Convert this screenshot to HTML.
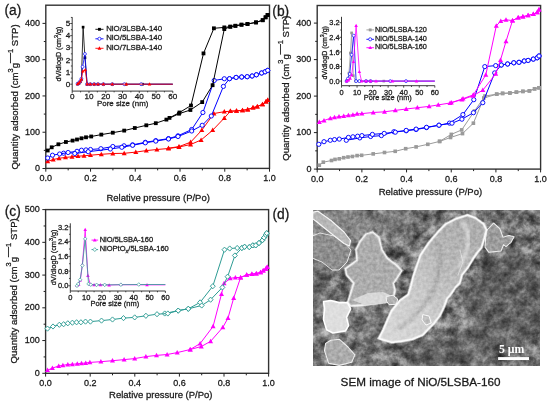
<!DOCTYPE html><html><head><meta charset="utf-8"><style>html,body{margin:0;padding:0;background:#fff}svg{display:block;will-change:transform} text.t{stroke:#1a1a1a;stroke-width:0.28px}</style></head><body>
<svg width="550" height="403" viewBox="0 0 550 403" font-family='"Liberation Sans", sans-serif'>
<rect width="550" height="403" fill="#fff"/>
<rect x="45.8" y="5.2" width="223.7" height="163.2" fill="none" stroke="#333" stroke-width="1.4"/>
<line x1="45.8" y1="168.4" x2="45.8" y2="171.7" stroke="#222" stroke-width="1.0"/>
<text class="t" x="45.8" y="181.2" font-size="9" text-anchor="middle" fill="#1a1a1a" >0.0</text>
<line x1="68.17" y1="168.4" x2="68.17" y2="170.4" stroke="#222" stroke-width="1.0"/>
<line x1="90.54" y1="168.4" x2="90.54" y2="171.7" stroke="#222" stroke-width="1.0"/>
<text class="t" x="90.54" y="181.2" font-size="9" text-anchor="middle" fill="#1a1a1a" >0.2</text>
<line x1="112.91" y1="168.4" x2="112.91" y2="170.4" stroke="#222" stroke-width="1.0"/>
<line x1="135.28" y1="168.4" x2="135.28" y2="171.7" stroke="#222" stroke-width="1.0"/>
<text class="t" x="135.28" y="181.2" font-size="9" text-anchor="middle" fill="#1a1a1a" >0.4</text>
<line x1="157.65" y1="168.4" x2="157.65" y2="170.4" stroke="#222" stroke-width="1.0"/>
<line x1="180.02" y1="168.4" x2="180.02" y2="171.7" stroke="#222" stroke-width="1.0"/>
<text class="t" x="180.02" y="181.2" font-size="9" text-anchor="middle" fill="#1a1a1a" >0.6</text>
<line x1="202.39" y1="168.4" x2="202.39" y2="170.4" stroke="#222" stroke-width="1.0"/>
<line x1="224.76" y1="168.4" x2="224.76" y2="171.7" stroke="#222" stroke-width="1.0"/>
<text class="t" x="224.76" y="181.2" font-size="9" text-anchor="middle" fill="#1a1a1a" >0.8</text>
<line x1="247.13" y1="168.4" x2="247.13" y2="170.4" stroke="#222" stroke-width="1.0"/>
<line x1="269.5" y1="168.4" x2="269.5" y2="171.7" stroke="#222" stroke-width="1.0"/>
<text class="t" x="269.5" y="181.2" font-size="9" text-anchor="middle" fill="#1a1a1a" >1.0</text>
<line x1="42.5" y1="168.5" x2="45.8" y2="168.5" stroke="#222" stroke-width="1.0"/>
<text class="t" x="40" y="171.1" font-size="9" text-anchor="end" fill="#1a1a1a" >0</text>
<line x1="42.5" y1="132.22" x2="45.8" y2="132.22" stroke="#222" stroke-width="1.0"/>
<text class="t" x="40" y="134.82" font-size="9" text-anchor="end" fill="#1a1a1a" >100</text>
<line x1="42.5" y1="95.94" x2="45.8" y2="95.94" stroke="#222" stroke-width="1.0"/>
<text class="t" x="40" y="98.54" font-size="9" text-anchor="end" fill="#1a1a1a" >200</text>
<line x1="42.5" y1="59.66" x2="45.8" y2="59.66" stroke="#222" stroke-width="1.0"/>
<text class="t" x="40" y="62.26" font-size="9" text-anchor="end" fill="#1a1a1a" >300</text>
<line x1="42.5" y1="23.38" x2="45.8" y2="23.38" stroke="#222" stroke-width="1.0"/>
<text class="t" x="40" y="25.98" font-size="9" text-anchor="end" fill="#1a1a1a" >400</text>
<line x1="43.8" y1="150.36" x2="45.8" y2="150.36" stroke="#222" stroke-width="1.0"/>
<line x1="43.8" y1="114.08" x2="45.8" y2="114.08" stroke="#222" stroke-width="1.0"/>
<line x1="43.8" y1="77.8" x2="45.8" y2="77.8" stroke="#222" stroke-width="1.0"/>
<line x1="43.8" y1="41.52" x2="45.8" y2="41.52" stroke="#222" stroke-width="1.0"/>
<text class="t" x="158.15" y="201.2" font-size="9.5" text-anchor="middle" fill="#1a1a1a" >Relative pressure (P/Po)</text>
<text transform="translate(18.4,169.6) rotate(-90)" class="t" font-size="9.6" fill="#1a1a1a">Quantity adsorbed (cm<tspan font-size="7.5" dy="-5.6">3</tspan><tspan dy="5.6">g</tspan><tspan font-size="10" dy="-5.6">—</tspan><tspan font-size="7.5">1</tspan><tspan dy="5.6"> STP)</tspan></text>
<text class="t" x="4.5" y="15.4" font-size="13.8" text-anchor="start" fill="#1a1a1a" >(a)</text>
<polyline points="267.7,100 266,101.7 262.5,104.3 257.3,106.5 253,107.7 247.7,109.5 242.5,110.3 236.5,110.9 230.4,111.2 224.3,111.7 213.9,113.5 201.8,130.2 190.6,142.2 179,146.6 168.5,148.2" fill="none" stroke="#ff0000" stroke-width="1.0" stroke-linejoin="round"/>
<path d="M267.7,97.38 L270.2,101.88 L265.2,101.88 Z" fill="#ff0000"/>
<path d="M266,99.08 L268.5,103.58 L263.5,103.58 Z" fill="#ff0000"/>
<path d="M262.5,101.67 L265,106.17 L260,106.17 Z" fill="#ff0000"/>
<path d="M257.3,103.88 L259.8,108.38 L254.8,108.38 Z" fill="#ff0000"/>
<path d="M253,105.08 L255.5,109.58 L250.5,109.58 Z" fill="#ff0000"/>
<path d="M247.7,106.88 L250.2,111.38 L245.2,111.38 Z" fill="#ff0000"/>
<path d="M242.5,107.67 L245,112.17 L240,112.17 Z" fill="#ff0000"/>
<path d="M236.5,108.28 L239,112.78 L234,112.78 Z" fill="#ff0000"/>
<path d="M230.4,108.58 L232.9,113.08 L227.9,113.08 Z" fill="#ff0000"/>
<path d="M224.3,109.08 L226.8,113.58 L221.8,113.58 Z" fill="#ff0000"/>
<path d="M213.9,110.88 L216.4,115.38 L211.4,115.38 Z" fill="#ff0000"/>
<path d="M201.8,127.57 L204.3,132.07 L199.3,132.07 Z" fill="#ff0000"/>
<path d="M190.6,139.57 L193.1,144.07 L188.1,144.07 Z" fill="#ff0000"/>
<path d="M179,143.97 L181.5,148.47 L176.5,148.47 Z" fill="#ff0000"/>
<path d="M168.5,145.57 L171,150.07 L166,150.07 Z" fill="#ff0000"/>
<polyline points="47.7,161.4 53.2,159.5 59,158.3 65.5,157.4 72,156.8 78,156.2 84,155.8 90.5,155.2 101.3,154.3 112.8,153.5 124.2,153.3 135.8,152.1 146.3,150.6 156.9,149.5 168.5,148.5 179,147 190.6,144.5 201.1,140 212.7,130.2 224.3,118 230.4,111.2 236.5,110.9 242.5,110.3 247.7,109.5 253,107.7 257.3,106.5 262.5,104.3 266,101.7 267.7,100" fill="none" stroke="#ff0000" stroke-width="1.0" stroke-linejoin="round"/>
<path d="M47.7,158.78 L50.2,163.28 L45.2,163.28 Z" fill="#ff0000"/>
<path d="M53.2,156.88 L55.7,161.38 L50.7,161.38 Z" fill="#ff0000"/>
<path d="M59,155.68 L61.5,160.18 L56.5,160.18 Z" fill="#ff0000"/>
<path d="M65.5,154.78 L68,159.28 L63,159.28 Z" fill="#ff0000"/>
<path d="M72,154.18 L74.5,158.68 L69.5,158.68 Z" fill="#ff0000"/>
<path d="M78,153.57 L80.5,158.07 L75.5,158.07 Z" fill="#ff0000"/>
<path d="M84,153.18 L86.5,157.68 L81.5,157.68 Z" fill="#ff0000"/>
<path d="M90.5,152.57 L93,157.07 L88,157.07 Z" fill="#ff0000"/>
<path d="M101.3,151.68 L103.8,156.18 L98.8,156.18 Z" fill="#ff0000"/>
<path d="M112.8,150.88 L115.3,155.38 L110.3,155.38 Z" fill="#ff0000"/>
<path d="M124.2,150.68 L126.7,155.18 L121.7,155.18 Z" fill="#ff0000"/>
<path d="M135.8,149.47 L138.3,153.97 L133.3,153.97 Z" fill="#ff0000"/>
<path d="M146.3,147.97 L148.8,152.47 L143.8,152.47 Z" fill="#ff0000"/>
<path d="M156.9,146.88 L159.4,151.38 L154.4,151.38 Z" fill="#ff0000"/>
<path d="M168.5,145.88 L171,150.38 L166,150.38 Z" fill="#ff0000"/>
<path d="M179,144.38 L181.5,148.88 L176.5,148.88 Z" fill="#ff0000"/>
<path d="M190.6,141.88 L193.1,146.38 L188.1,146.38 Z" fill="#ff0000"/>
<path d="M201.1,137.38 L203.6,141.88 L198.6,141.88 Z" fill="#ff0000"/>
<path d="M212.7,127.57 L215.2,132.07 L210.2,132.07 Z" fill="#ff0000"/>
<path d="M224.3,115.38 L226.8,119.88 L221.8,119.88 Z" fill="#ff0000"/>
<path d="M230.4,108.58 L232.9,113.08 L227.9,113.08 Z" fill="#ff0000"/>
<path d="M236.5,108.28 L239,112.78 L234,112.78 Z" fill="#ff0000"/>
<path d="M242.5,107.67 L245,112.17 L240,112.17 Z" fill="#ff0000"/>
<path d="M247.7,106.88 L250.2,111.38 L245.2,111.38 Z" fill="#ff0000"/>
<path d="M253,105.08 L255.5,109.58 L250.5,109.58 Z" fill="#ff0000"/>
<path d="M257.3,103.88 L259.8,108.38 L254.8,108.38 Z" fill="#ff0000"/>
<path d="M262.5,101.67 L265,106.17 L260,106.17 Z" fill="#ff0000"/>
<path d="M266,99.08 L268.5,103.58 L263.5,103.58 Z" fill="#ff0000"/>
<path d="M267.7,97.38 L270.2,101.88 L265.2,101.88 Z" fill="#ff0000"/>
<polyline points="267.7,70.4 265.1,71.8 261.6,73 256.4,74.8 252.1,76 247.2,76.7 241.7,77 236.1,77.4 229.5,78.7 224.3,78.75 214.2,80.5 202.9,112.5 191.7,129.5 178,135.8 168.5,138.6 155.8,140.6 145.3,142.3 132.6,144.8 124,145.8 112.8,146.5 100.9,148.7 90.5,149.5 86,149.9 81.5,150.2 77,151.3 63.6,153.2" fill="none" stroke="#0000ff" stroke-width="1.0" stroke-linejoin="round"/>
<circle cx="267.7" cy="70.4" r="2.1" fill="#fff" stroke="#0000ff" stroke-width="0.95"/>
<circle cx="265.1" cy="71.8" r="2.1" fill="#fff" stroke="#0000ff" stroke-width="0.95"/>
<circle cx="261.6" cy="73" r="2.1" fill="#fff" stroke="#0000ff" stroke-width="0.95"/>
<circle cx="256.4" cy="74.8" r="2.1" fill="#fff" stroke="#0000ff" stroke-width="0.95"/>
<circle cx="252.1" cy="76" r="2.1" fill="#fff" stroke="#0000ff" stroke-width="0.95"/>
<circle cx="247.2" cy="76.7" r="2.1" fill="#fff" stroke="#0000ff" stroke-width="0.95"/>
<circle cx="241.7" cy="77" r="2.1" fill="#fff" stroke="#0000ff" stroke-width="0.95"/>
<circle cx="236.1" cy="77.4" r="2.1" fill="#fff" stroke="#0000ff" stroke-width="0.95"/>
<circle cx="229.5" cy="78.7" r="2.1" fill="#fff" stroke="#0000ff" stroke-width="0.95"/>
<circle cx="224.3" cy="78.75" r="2.1" fill="#fff" stroke="#0000ff" stroke-width="0.95"/>
<circle cx="214.2" cy="80.5" r="2.1" fill="#fff" stroke="#0000ff" stroke-width="0.95"/>
<circle cx="202.9" cy="112.5" r="2.1" fill="#fff" stroke="#0000ff" stroke-width="0.95"/>
<circle cx="191.7" cy="129.5" r="2.1" fill="#fff" stroke="#0000ff" stroke-width="0.95"/>
<circle cx="178" cy="135.8" r="2.1" fill="#fff" stroke="#0000ff" stroke-width="0.95"/>
<circle cx="168.5" cy="138.6" r="2.1" fill="#fff" stroke="#0000ff" stroke-width="0.95"/>
<circle cx="155.8" cy="140.6" r="2.1" fill="#fff" stroke="#0000ff" stroke-width="0.95"/>
<circle cx="145.3" cy="142.3" r="2.1" fill="#fff" stroke="#0000ff" stroke-width="0.95"/>
<circle cx="132.6" cy="144.8" r="2.1" fill="#fff" stroke="#0000ff" stroke-width="0.95"/>
<circle cx="124" cy="145.8" r="2.1" fill="#fff" stroke="#0000ff" stroke-width="0.95"/>
<circle cx="112.8" cy="146.5" r="2.1" fill="#fff" stroke="#0000ff" stroke-width="0.95"/>
<circle cx="100.9" cy="148.7" r="2.1" fill="#fff" stroke="#0000ff" stroke-width="0.95"/>
<circle cx="90.5" cy="149.5" r="2.1" fill="#fff" stroke="#0000ff" stroke-width="0.95"/>
<circle cx="86" cy="149.9" r="2.1" fill="#fff" stroke="#0000ff" stroke-width="0.95"/>
<circle cx="81.5" cy="150.2" r="2.1" fill="#fff" stroke="#0000ff" stroke-width="0.95"/>
<circle cx="77" cy="151.3" r="2.1" fill="#fff" stroke="#0000ff" stroke-width="0.95"/>
<circle cx="63.6" cy="153.2" r="2.1" fill="#fff" stroke="#0000ff" stroke-width="0.95"/>
<polyline points="47.7,158 52.5,155.2 59.6,154 68.1,152.5 74.8,153.5 88.2,151.7 110.3,149 121.8,147.3 132.6,145.3 145.3,142.8 155.8,141.1 168.5,139 178,136.5 191.7,131 202.2,125.3 211.3,116 223.4,86.4 229.5,78.7 236.1,77.4 241.7,77 247.2,76.7 252.1,76 256.4,74.8 261.6,73 265.1,71.8 267.7,70.4" fill="none" stroke="#0000ff" stroke-width="1.0" stroke-linejoin="round"/>
<circle cx="47.7" cy="158" r="2.1" fill="#fff" stroke="#0000ff" stroke-width="0.95"/>
<circle cx="52.5" cy="155.2" r="2.1" fill="#fff" stroke="#0000ff" stroke-width="0.95"/>
<circle cx="59.6" cy="154" r="2.1" fill="#fff" stroke="#0000ff" stroke-width="0.95"/>
<circle cx="68.1" cy="152.5" r="2.1" fill="#fff" stroke="#0000ff" stroke-width="0.95"/>
<circle cx="74.8" cy="153.5" r="2.1" fill="#fff" stroke="#0000ff" stroke-width="0.95"/>
<circle cx="88.2" cy="151.7" r="2.1" fill="#fff" stroke="#0000ff" stroke-width="0.95"/>
<circle cx="110.3" cy="149" r="2.1" fill="#fff" stroke="#0000ff" stroke-width="0.95"/>
<circle cx="121.8" cy="147.3" r="2.1" fill="#fff" stroke="#0000ff" stroke-width="0.95"/>
<circle cx="132.6" cy="145.3" r="2.1" fill="#fff" stroke="#0000ff" stroke-width="0.95"/>
<circle cx="145.3" cy="142.8" r="2.1" fill="#fff" stroke="#0000ff" stroke-width="0.95"/>
<circle cx="155.8" cy="141.1" r="2.1" fill="#fff" stroke="#0000ff" stroke-width="0.95"/>
<circle cx="168.5" cy="139" r="2.1" fill="#fff" stroke="#0000ff" stroke-width="0.95"/>
<circle cx="178" cy="136.5" r="2.1" fill="#fff" stroke="#0000ff" stroke-width="0.95"/>
<circle cx="191.7" cy="131" r="2.1" fill="#fff" stroke="#0000ff" stroke-width="0.95"/>
<circle cx="202.2" cy="125.3" r="2.1" fill="#fff" stroke="#0000ff" stroke-width="0.95"/>
<circle cx="211.3" cy="116" r="2.1" fill="#fff" stroke="#0000ff" stroke-width="0.95"/>
<circle cx="223.4" cy="86.4" r="2.1" fill="#fff" stroke="#0000ff" stroke-width="0.95"/>
<circle cx="229.5" cy="78.7" r="2.1" fill="#fff" stroke="#0000ff" stroke-width="0.95"/>
<circle cx="236.1" cy="77.4" r="2.1" fill="#fff" stroke="#0000ff" stroke-width="0.95"/>
<circle cx="241.7" cy="77" r="2.1" fill="#fff" stroke="#0000ff" stroke-width="0.95"/>
<circle cx="247.2" cy="76.7" r="2.1" fill="#fff" stroke="#0000ff" stroke-width="0.95"/>
<circle cx="252.1" cy="76" r="2.1" fill="#fff" stroke="#0000ff" stroke-width="0.95"/>
<circle cx="256.4" cy="74.8" r="2.1" fill="#fff" stroke="#0000ff" stroke-width="0.95"/>
<circle cx="261.6" cy="73" r="2.1" fill="#fff" stroke="#0000ff" stroke-width="0.95"/>
<circle cx="265.1" cy="71.8" r="2.1" fill="#fff" stroke="#0000ff" stroke-width="0.95"/>
<circle cx="267.7" cy="70.4" r="2.1" fill="#fff" stroke="#0000ff" stroke-width="0.95"/>
<polyline points="267.6,15 265.6,17.3 262.7,20.2 256,22.4 247.5,24 241.5,24.7 235.4,25.8 230.3,26.7 224.3,27.4 213.9,28.3 203.5,53.4 191,105.5 179.5,112.5 169.5,117.9" fill="none" stroke="#000000" stroke-width="1.0" stroke-linejoin="round"/>
<rect x="265.7" y="13.1" width="3.8" height="3.8" fill="#000000"/>
<rect x="263.7" y="15.4" width="3.8" height="3.8" fill="#000000"/>
<rect x="260.8" y="18.3" width="3.8" height="3.8" fill="#000000"/>
<rect x="254.1" y="20.5" width="3.8" height="3.8" fill="#000000"/>
<rect x="245.6" y="22.1" width="3.8" height="3.8" fill="#000000"/>
<rect x="239.6" y="22.8" width="3.8" height="3.8" fill="#000000"/>
<rect x="233.5" y="23.9" width="3.8" height="3.8" fill="#000000"/>
<rect x="228.4" y="24.8" width="3.8" height="3.8" fill="#000000"/>
<rect x="222.4" y="25.5" width="3.8" height="3.8" fill="#000000"/>
<rect x="212" y="26.4" width="3.8" height="3.8" fill="#000000"/>
<rect x="201.6" y="51.5" width="3.8" height="3.8" fill="#000000"/>
<rect x="189.1" y="103.6" width="3.8" height="3.8" fill="#000000"/>
<rect x="177.6" y="110.6" width="3.8" height="3.8" fill="#000000"/>
<rect x="167.6" y="116" width="3.8" height="3.8" fill="#000000"/>
<polyline points="47.7,150.5 51.7,147.3 58.4,144.3 65.9,142 72.6,140.6 77,139.5 81.5,138.3 86,137.3 91.2,136.5 101.3,134.6 112.8,132.7 124.2,130.6 134.8,128 146.3,125.3 155.8,123.2 166.4,119.6 179,113.7 190.4,110 202.2,102.1 212.6,85.2 224.3,29.1 230.3,26.7 235.4,25.8 241.5,24.7 247.5,24 256,22.4 262.7,20.2 265.6,17.3 267.6,15" fill="none" stroke="#000000" stroke-width="1.0" stroke-linejoin="round"/>
<rect x="45.8" y="148.6" width="3.8" height="3.8" fill="#000000"/>
<rect x="49.8" y="145.4" width="3.8" height="3.8" fill="#000000"/>
<rect x="56.5" y="142.4" width="3.8" height="3.8" fill="#000000"/>
<rect x="64" y="140.1" width="3.8" height="3.8" fill="#000000"/>
<rect x="70.7" y="138.7" width="3.8" height="3.8" fill="#000000"/>
<rect x="75.1" y="137.6" width="3.8" height="3.8" fill="#000000"/>
<rect x="79.6" y="136.4" width="3.8" height="3.8" fill="#000000"/>
<rect x="84.1" y="135.4" width="3.8" height="3.8" fill="#000000"/>
<rect x="89.3" y="134.6" width="3.8" height="3.8" fill="#000000"/>
<rect x="99.4" y="132.7" width="3.8" height="3.8" fill="#000000"/>
<rect x="110.9" y="130.8" width="3.8" height="3.8" fill="#000000"/>
<rect x="122.3" y="128.7" width="3.8" height="3.8" fill="#000000"/>
<rect x="132.9" y="126.1" width="3.8" height="3.8" fill="#000000"/>
<rect x="144.4" y="123.4" width="3.8" height="3.8" fill="#000000"/>
<rect x="153.9" y="121.3" width="3.8" height="3.8" fill="#000000"/>
<rect x="164.5" y="117.7" width="3.8" height="3.8" fill="#000000"/>
<rect x="177.1" y="111.8" width="3.8" height="3.8" fill="#000000"/>
<rect x="188.5" y="108.1" width="3.8" height="3.8" fill="#000000"/>
<rect x="200.3" y="100.2" width="3.8" height="3.8" fill="#000000"/>
<rect x="210.7" y="83.3" width="3.8" height="3.8" fill="#000000"/>
<rect x="222.4" y="27.2" width="3.8" height="3.8" fill="#000000"/>
<rect x="228.4" y="24.8" width="3.8" height="3.8" fill="#000000"/>
<rect x="233.5" y="23.9" width="3.8" height="3.8" fill="#000000"/>
<rect x="239.6" y="22.8" width="3.8" height="3.8" fill="#000000"/>
<rect x="245.6" y="22.1" width="3.8" height="3.8" fill="#000000"/>
<rect x="254.1" y="20.5" width="3.8" height="3.8" fill="#000000"/>
<rect x="260.8" y="18.3" width="3.8" height="3.8" fill="#000000"/>
<rect x="263.7" y="15.4" width="3.8" height="3.8" fill="#000000"/>
<rect x="265.7" y="13.1" width="3.8" height="3.8" fill="#000000"/>
<line x1="72.2" y1="17.2" x2="72.2" y2="91.1" stroke="#222" stroke-width="0.9"/>
<line x1="72.2" y1="91.1" x2="172.8" y2="91.1" stroke="#222" stroke-width="0.9"/>
<line x1="72.2" y1="91.1" x2="72.2" y2="93.1" stroke="#222" stroke-width="0.8"/>
<text class="t" x="72.2" y="99.2" font-size="8.1" text-anchor="middle" fill="#1a1a1a" >0</text>
<line x1="80.58" y1="91.1" x2="80.58" y2="92.4" stroke="#222" stroke-width="0.8"/>
<line x1="88.97" y1="91.1" x2="88.97" y2="93.1" stroke="#222" stroke-width="0.8"/>
<text class="t" x="88.97" y="99.2" font-size="8.1" text-anchor="middle" fill="#1a1a1a" >10</text>
<line x1="97.35" y1="91.1" x2="97.35" y2="92.4" stroke="#222" stroke-width="0.8"/>
<line x1="105.73" y1="91.1" x2="105.73" y2="93.1" stroke="#222" stroke-width="0.8"/>
<text class="t" x="105.73" y="99.2" font-size="8.1" text-anchor="middle" fill="#1a1a1a" >20</text>
<line x1="114.12" y1="91.1" x2="114.12" y2="92.4" stroke="#222" stroke-width="0.8"/>
<line x1="122.5" y1="91.1" x2="122.5" y2="93.1" stroke="#222" stroke-width="0.8"/>
<text class="t" x="122.5" y="99.2" font-size="8.1" text-anchor="middle" fill="#1a1a1a" >30</text>
<line x1="130.88" y1="91.1" x2="130.88" y2="92.4" stroke="#222" stroke-width="0.8"/>
<line x1="139.27" y1="91.1" x2="139.27" y2="93.1" stroke="#222" stroke-width="0.8"/>
<text class="t" x="139.27" y="99.2" font-size="8.1" text-anchor="middle" fill="#1a1a1a" >40</text>
<line x1="147.65" y1="91.1" x2="147.65" y2="92.4" stroke="#222" stroke-width="0.8"/>
<line x1="156.03" y1="91.1" x2="156.03" y2="93.1" stroke="#222" stroke-width="0.8"/>
<text class="t" x="156.03" y="99.2" font-size="8.1" text-anchor="middle" fill="#1a1a1a" >50</text>
<line x1="164.42" y1="91.1" x2="164.42" y2="92.4" stroke="#222" stroke-width="0.8"/>
<line x1="172.8" y1="91.1" x2="172.8" y2="93.1" stroke="#222" stroke-width="0.8"/>
<text class="t" x="172.8" y="99.2" font-size="8.1" text-anchor="middle" fill="#1a1a1a" >60</text>
<line x1="70.2" y1="84.2" x2="72.2" y2="84.2" stroke="#222" stroke-width="0.8"/>
<text class="t" x="70.3" y="86.8" font-size="8.1" text-anchor="end" fill="#1a1a1a" >0</text>
<line x1="70.2" y1="72.06" x2="72.2" y2="72.06" stroke="#222" stroke-width="0.8"/>
<text class="t" x="70.3" y="74.66" font-size="8.1" text-anchor="end" fill="#1a1a1a" >1</text>
<line x1="70.2" y1="59.92" x2="72.2" y2="59.92" stroke="#222" stroke-width="0.8"/>
<text class="t" x="70.3" y="62.52" font-size="8.1" text-anchor="end" fill="#1a1a1a" >2</text>
<line x1="70.2" y1="47.78" x2="72.2" y2="47.78" stroke="#222" stroke-width="0.8"/>
<text class="t" x="70.3" y="50.38" font-size="8.1" text-anchor="end" fill="#1a1a1a" >3</text>
<line x1="70.2" y1="35.64" x2="72.2" y2="35.64" stroke="#222" stroke-width="0.8"/>
<text class="t" x="70.3" y="38.24" font-size="8.1" text-anchor="end" fill="#1a1a1a" >4</text>
<line x1="70.2" y1="23.5" x2="72.2" y2="23.5" stroke="#222" stroke-width="0.8"/>
<text class="t" x="70.3" y="26.1" font-size="8.1" text-anchor="end" fill="#1a1a1a" >5</text>
<line x1="70.9" y1="78.13" x2="72.2" y2="78.13" stroke="#222" stroke-width="0.8"/>
<line x1="70.9" y1="65.99" x2="72.2" y2="65.99" stroke="#222" stroke-width="0.8"/>
<line x1="70.9" y1="53.85" x2="72.2" y2="53.85" stroke="#222" stroke-width="0.8"/>
<line x1="70.9" y1="41.71" x2="72.2" y2="41.71" stroke="#222" stroke-width="0.8"/>
<line x1="70.9" y1="29.57" x2="72.2" y2="29.57" stroke="#222" stroke-width="0.8"/>
<line x1="70.9" y1="17.43" x2="72.2" y2="17.43" stroke="#222" stroke-width="0.8"/>
<text class="t" x="122.7" y="105.8" font-size="7.9" text-anchor="middle" fill="#1a1a1a" >Pore size (nm)</text>
<text transform="translate(60.8,81.5) rotate(-90)" class="t" font-size="7.2" fill="#1a1a1a">dV/dlogD (cm<tspan font-size="5.4" dy="-3">3</tspan><tspan dy="3">/g)</tspan></text>
<polyline points="77.57,83.96 78.91,83.23 80.25,81.77 81.42,79.34 83.1,27.14 84.94,57.73 87.12,84.2 90.31,84.2 94.16,84.2 98.02,84.2 103.39,84.2 112.27,84.2 125.85,84.2 142.45,84.2 172.8,84.2" fill="none" stroke="#000000" stroke-width="0.8" stroke-linejoin="round"/>
<rect x="76.24" y="82.63" width="2.66" height="2.66" fill="#000000"/>
<rect x="77.58" y="81.9" width="2.66" height="2.66" fill="#000000"/>
<rect x="78.92" y="80.44" width="2.66" height="2.66" fill="#000000"/>
<rect x="80.09" y="78.01" width="2.66" height="2.66" fill="#000000"/>
<rect x="81.77" y="25.81" width="2.66" height="2.66" fill="#000000"/>
<rect x="83.61" y="56.4" width="2.66" height="2.66" fill="#000000"/>
<rect x="85.79" y="82.87" width="2.66" height="2.66" fill="#000000"/>
<rect x="88.98" y="82.87" width="2.66" height="2.66" fill="#000000"/>
<rect x="92.83" y="82.87" width="2.66" height="2.66" fill="#000000"/>
<rect x="96.69" y="82.87" width="2.66" height="2.66" fill="#000000"/>
<rect x="102.06" y="82.87" width="2.66" height="2.66" fill="#000000"/>
<rect x="110.94" y="82.87" width="2.66" height="2.66" fill="#000000"/>
<rect x="124.52" y="82.87" width="2.66" height="2.66" fill="#000000"/>
<rect x="141.12" y="82.87" width="2.66" height="2.66" fill="#000000"/>
<polyline points="77.57,83.84 78.91,82.99 80.25,81.17 81.42,78.74 82.6,66.84 84.94,53.97 87.12,84.2 90.31,84.2 94.16,84.2 98.02,84.2 103.39,84.2 112.27,84.2 124.34,84.2 141.11,84.2 172.8,84.2" fill="none" stroke="#0000ff" stroke-width="0.8" stroke-linejoin="round"/>
<circle cx="77.57" cy="83.84" r="1.47" fill="#fff" stroke="#0000ff" stroke-width="0.66"/>
<circle cx="78.91" cy="82.99" r="1.47" fill="#fff" stroke="#0000ff" stroke-width="0.66"/>
<circle cx="80.25" cy="81.17" r="1.47" fill="#fff" stroke="#0000ff" stroke-width="0.66"/>
<circle cx="81.42" cy="78.74" r="1.47" fill="#fff" stroke="#0000ff" stroke-width="0.66"/>
<circle cx="82.6" cy="66.84" r="1.47" fill="#fff" stroke="#0000ff" stroke-width="0.66"/>
<circle cx="84.94" cy="53.97" r="1.47" fill="#fff" stroke="#0000ff" stroke-width="0.66"/>
<circle cx="87.12" cy="84.2" r="1.47" fill="#fff" stroke="#0000ff" stroke-width="0.66"/>
<circle cx="90.31" cy="84.2" r="1.47" fill="#fff" stroke="#0000ff" stroke-width="0.66"/>
<circle cx="94.16" cy="84.2" r="1.47" fill="#fff" stroke="#0000ff" stroke-width="0.66"/>
<circle cx="98.02" cy="84.2" r="1.47" fill="#fff" stroke="#0000ff" stroke-width="0.66"/>
<circle cx="103.39" cy="84.2" r="1.47" fill="#fff" stroke="#0000ff" stroke-width="0.66"/>
<circle cx="112.27" cy="84.2" r="1.47" fill="#fff" stroke="#0000ff" stroke-width="0.66"/>
<circle cx="124.34" cy="84.2" r="1.47" fill="#fff" stroke="#0000ff" stroke-width="0.66"/>
<circle cx="141.11" cy="84.2" r="1.47" fill="#fff" stroke="#0000ff" stroke-width="0.66"/>
<polyline points="77.57,83.96 78.91,82.99 80.25,81.17 81.42,79.1 82.76,71.09 85.28,69.87 87.12,84.2 90.31,84.2 94.16,84.2 98.02,84.2 103.39,84.2 112.27,84.2 126.36,84.2 149.49,84.2 172.8,84.2" fill="none" stroke="#ff0000" stroke-width="0.8" stroke-linejoin="round"/>
<path d="M77.57,82.12 L79.32,85.27 L75.82,85.27 Z" fill="#ff0000"/>
<path d="M78.91,81.15 L80.66,84.3 L77.16,84.3 Z" fill="#ff0000"/>
<path d="M80.25,79.33 L82,82.48 L78.5,82.48 Z" fill="#ff0000"/>
<path d="M81.42,77.26 L83.17,80.41 L79.67,80.41 Z" fill="#ff0000"/>
<path d="M82.76,69.25 L84.51,72.4 L81.01,72.4 Z" fill="#ff0000"/>
<path d="M85.28,68.04 L87.03,71.19 L83.53,71.19 Z" fill="#ff0000"/>
<path d="M87.12,82.36 L88.87,85.51 L85.37,85.51 Z" fill="#ff0000"/>
<path d="M90.31,82.36 L92.06,85.51 L88.56,85.51 Z" fill="#ff0000"/>
<path d="M94.16,82.36 L95.91,85.51 L92.41,85.51 Z" fill="#ff0000"/>
<path d="M98.02,82.36 L99.77,85.51 L96.27,85.51 Z" fill="#ff0000"/>
<path d="M103.39,82.36 L105.14,85.51 L101.64,85.51 Z" fill="#ff0000"/>
<path d="M112.27,82.36 L114.02,85.51 L110.52,85.51 Z" fill="#ff0000"/>
<path d="M126.36,82.36 L128.11,85.51 L124.61,85.51 Z" fill="#ff0000"/>
<path d="M149.49,82.36 L151.24,85.51 L147.74,85.51 Z" fill="#ff0000"/>
<line x1="95.4" y1="29.3" x2="103.5" y2="29.3" stroke="#000000" stroke-width="0.9"/>
<rect x="98.03" y="27.88" width="2.85" height="2.85" fill="#000000"/>
<text class="t" x="106.2" y="30.9" font-size="7.85" text-anchor="start" fill="#1a1a1a" >NiO/3LSBA-140</text>
<line x1="95.4" y1="38.8" x2="103.5" y2="38.8" stroke="#0000ff" stroke-width="0.9"/>
<circle cx="99.45" cy="38.8" r="1.58" fill="#fff" stroke="#0000ff" stroke-width="0.71"/>
<text class="t" x="106.2" y="40.4" font-size="7.85" text-anchor="start" fill="#1a1a1a" >NiO/5LSBA-140</text>
<line x1="95.4" y1="48.3" x2="103.5" y2="48.3" stroke="#ff0000" stroke-width="0.9"/>
<path d="M99.45,46.33 L101.33,49.71 L97.58,49.71 Z" fill="#ff0000"/>
<text class="t" x="106.2" y="49.9" font-size="7.85" text-anchor="start" fill="#1a1a1a" >NiO/7LSBA-140</text>
<rect x="317.2" y="5.5" width="223.4" height="163.6" fill="none" stroke="#333" stroke-width="1.4"/>
<line x1="317.2" y1="169.1" x2="317.2" y2="172.4" stroke="#222" stroke-width="1.0"/>
<text class="t" x="317.2" y="181.9" font-size="9" text-anchor="middle" fill="#1a1a1a" >0.0</text>
<line x1="339.54" y1="169.1" x2="339.54" y2="171.1" stroke="#222" stroke-width="1.0"/>
<line x1="361.88" y1="169.1" x2="361.88" y2="172.4" stroke="#222" stroke-width="1.0"/>
<text class="t" x="361.88" y="181.9" font-size="9" text-anchor="middle" fill="#1a1a1a" >0.2</text>
<line x1="384.22" y1="169.1" x2="384.22" y2="171.1" stroke="#222" stroke-width="1.0"/>
<line x1="406.56" y1="169.1" x2="406.56" y2="172.4" stroke="#222" stroke-width="1.0"/>
<text class="t" x="406.56" y="181.9" font-size="9" text-anchor="middle" fill="#1a1a1a" >0.4</text>
<line x1="428.9" y1="169.1" x2="428.9" y2="171.1" stroke="#222" stroke-width="1.0"/>
<line x1="451.24" y1="169.1" x2="451.24" y2="172.4" stroke="#222" stroke-width="1.0"/>
<text class="t" x="451.24" y="181.9" font-size="9" text-anchor="middle" fill="#1a1a1a" >0.6</text>
<line x1="473.58" y1="169.1" x2="473.58" y2="171.1" stroke="#222" stroke-width="1.0"/>
<line x1="495.92" y1="169.1" x2="495.92" y2="172.4" stroke="#222" stroke-width="1.0"/>
<text class="t" x="495.92" y="181.9" font-size="9" text-anchor="middle" fill="#1a1a1a" >0.8</text>
<line x1="518.26" y1="169.1" x2="518.26" y2="171.1" stroke="#222" stroke-width="1.0"/>
<line x1="540.6" y1="169.1" x2="540.6" y2="172.4" stroke="#222" stroke-width="1.0"/>
<text class="t" x="540.6" y="181.9" font-size="9" text-anchor="middle" fill="#1a1a1a" >1.0</text>
<line x1="313.9" y1="169.1" x2="317.2" y2="169.1" stroke="#222" stroke-width="1.0"/>
<text class="t" x="311.4" y="171.7" font-size="9" text-anchor="end" fill="#1a1a1a" >0</text>
<line x1="313.9" y1="132.6" x2="317.2" y2="132.6" stroke="#222" stroke-width="1.0"/>
<text class="t" x="311.4" y="135.2" font-size="9" text-anchor="end" fill="#1a1a1a" >100</text>
<line x1="313.9" y1="96.1" x2="317.2" y2="96.1" stroke="#222" stroke-width="1.0"/>
<text class="t" x="311.4" y="98.7" font-size="9" text-anchor="end" fill="#1a1a1a" >200</text>
<line x1="313.9" y1="59.6" x2="317.2" y2="59.6" stroke="#222" stroke-width="1.0"/>
<text class="t" x="311.4" y="62.2" font-size="9" text-anchor="end" fill="#1a1a1a" >300</text>
<line x1="313.9" y1="23.1" x2="317.2" y2="23.1" stroke="#222" stroke-width="1.0"/>
<text class="t" x="311.4" y="25.7" font-size="9" text-anchor="end" fill="#1a1a1a" >400</text>
<line x1="315.2" y1="150.85" x2="317.2" y2="150.85" stroke="#222" stroke-width="1.0"/>
<line x1="315.2" y1="114.35" x2="317.2" y2="114.35" stroke="#222" stroke-width="1.0"/>
<line x1="315.2" y1="77.85" x2="317.2" y2="77.85" stroke="#222" stroke-width="1.0"/>
<line x1="315.2" y1="41.35" x2="317.2" y2="41.35" stroke="#222" stroke-width="1.0"/>
<text class="t" x="430.4" y="195.2" font-size="9.5" text-anchor="middle" fill="#1a1a1a" >Relative pressure (P/Po)</text>
<text transform="translate(289,160.8) rotate(-90)" class="t" font-size="9.6" fill="#1a1a1a">Quantity adsorbed (cm<tspan font-size="7.5" dy="-5.6">3</tspan><tspan dy="5.6">g</tspan><tspan font-size="10" dy="-5.6">—</tspan><tspan font-size="7.5">1</tspan><tspan dy="5.6"> STP)</tspan></text>
<text class="t" x="272.3" y="16" font-size="13.8" text-anchor="start" fill="#1a1a1a" >(b)</text>
<polyline points="539,87.8 534.6,88.8 529.4,90.9 522.9,91.4 516.4,92.2 509.9,93 502.6,93.4 496.7,94.2 485,96 474.5,111 461.7,129.9 451.3,134.4 439.6,141.4" fill="none" stroke="#9a9a9a" stroke-width="1.0" stroke-linejoin="round"/>
<rect x="537.2" y="85.99" width="3.61" height="3.61" fill="#9a9a9a"/>
<rect x="532.8" y="86.99" width="3.61" height="3.61" fill="#9a9a9a"/>
<rect x="527.6" y="89.09" width="3.61" height="3.61" fill="#9a9a9a"/>
<rect x="521.1" y="89.59" width="3.61" height="3.61" fill="#9a9a9a"/>
<rect x="514.6" y="90.39" width="3.61" height="3.61" fill="#9a9a9a"/>
<rect x="508.09" y="91.19" width="3.61" height="3.61" fill="#9a9a9a"/>
<rect x="500.8" y="91.59" width="3.61" height="3.61" fill="#9a9a9a"/>
<rect x="494.89" y="92.39" width="3.61" height="3.61" fill="#9a9a9a"/>
<rect x="483.19" y="94.19" width="3.61" height="3.61" fill="#9a9a9a"/>
<rect x="472.69" y="109.19" width="3.61" height="3.61" fill="#9a9a9a"/>
<rect x="459.89" y="128.09" width="3.61" height="3.61" fill="#9a9a9a"/>
<rect x="449.5" y="132.59" width="3.61" height="3.61" fill="#9a9a9a"/>
<rect x="437.8" y="139.59" width="3.61" height="3.61" fill="#9a9a9a"/>
<polyline points="319.3,165.2 323.3,162.2 331.5,160.5 335,159.4 339.3,158.8 343.7,157.7 348,157 352.4,156.5 357.1,155.6 361.6,155.3 373.2,153.9 384.5,152.5 395.2,151.3 405.7,148.7 416.1,146.9 427.8,144.3 439.6,141.4 450.5,137.5 462.5,133.6 473.4,123.2 483.8,98 496.7,94.2 502.6,93.4 509.9,93 516.4,92.2 522.9,91.4 529.4,90.9 534.6,88.8 539,87.8" fill="none" stroke="#9a9a9a" stroke-width="1.0" stroke-linejoin="round"/>
<rect x="317.5" y="163.39" width="3.61" height="3.61" fill="#9a9a9a"/>
<rect x="321.5" y="160.39" width="3.61" height="3.61" fill="#9a9a9a"/>
<rect x="329.69" y="158.69" width="3.61" height="3.61" fill="#9a9a9a"/>
<rect x="333.19" y="157.59" width="3.61" height="3.61" fill="#9a9a9a"/>
<rect x="337.5" y="157" width="3.61" height="3.61" fill="#9a9a9a"/>
<rect x="341.89" y="155.89" width="3.61" height="3.61" fill="#9a9a9a"/>
<rect x="346.19" y="155.19" width="3.61" height="3.61" fill="#9a9a9a"/>
<rect x="350.59" y="154.69" width="3.61" height="3.61" fill="#9a9a9a"/>
<rect x="355.3" y="153.79" width="3.61" height="3.61" fill="#9a9a9a"/>
<rect x="359.8" y="153.5" width="3.61" height="3.61" fill="#9a9a9a"/>
<rect x="371.39" y="152.09" width="3.61" height="3.61" fill="#9a9a9a"/>
<rect x="382.69" y="150.69" width="3.61" height="3.61" fill="#9a9a9a"/>
<rect x="393.39" y="149.5" width="3.61" height="3.61" fill="#9a9a9a"/>
<rect x="403.89" y="146.89" width="3.61" height="3.61" fill="#9a9a9a"/>
<rect x="414.3" y="145.09" width="3.61" height="3.61" fill="#9a9a9a"/>
<rect x="426" y="142.5" width="3.61" height="3.61" fill="#9a9a9a"/>
<rect x="437.8" y="139.59" width="3.61" height="3.61" fill="#9a9a9a"/>
<rect x="448.69" y="135.69" width="3.61" height="3.61" fill="#9a9a9a"/>
<rect x="460.69" y="131.79" width="3.61" height="3.61" fill="#9a9a9a"/>
<rect x="471.59" y="121.39" width="3.61" height="3.61" fill="#9a9a9a"/>
<rect x="482" y="96.19" width="3.61" height="3.61" fill="#9a9a9a"/>
<rect x="494.89" y="92.39" width="3.61" height="3.61" fill="#9a9a9a"/>
<rect x="500.8" y="91.59" width="3.61" height="3.61" fill="#9a9a9a"/>
<rect x="508.09" y="91.19" width="3.61" height="3.61" fill="#9a9a9a"/>
<rect x="514.6" y="90.39" width="3.61" height="3.61" fill="#9a9a9a"/>
<rect x="521.1" y="89.59" width="3.61" height="3.61" fill="#9a9a9a"/>
<rect x="527.6" y="89.09" width="3.61" height="3.61" fill="#9a9a9a"/>
<rect x="532.8" y="86.99" width="3.61" height="3.61" fill="#9a9a9a"/>
<rect x="537.2" y="85.99" width="3.61" height="3.61" fill="#9a9a9a"/>
<polyline points="539,56 537.2,57.8 533.3,59.1 528.1,60.4 524.2,61 519,62.3 513.8,62.8 507.6,64 501.3,65 495.7,65.6 484.8,66.6 473.8,99.7 462.9,114.6 449.5,123.1 439,125.2 426.5,127.6 416.1,129.5 406.2,130.8 393.9,131.7 381.4,135.6 370.6,136.5 359.8,137.9 346.3,140.3" fill="none" stroke="#0000ff" stroke-width="1.0" stroke-linejoin="round"/>
<circle cx="539" cy="56" r="2.1" fill="#fff" stroke="#0000ff" stroke-width="0.95"/>
<circle cx="537.2" cy="57.8" r="2.1" fill="#fff" stroke="#0000ff" stroke-width="0.95"/>
<circle cx="533.3" cy="59.1" r="2.1" fill="#fff" stroke="#0000ff" stroke-width="0.95"/>
<circle cx="528.1" cy="60.4" r="2.1" fill="#fff" stroke="#0000ff" stroke-width="0.95"/>
<circle cx="524.2" cy="61" r="2.1" fill="#fff" stroke="#0000ff" stroke-width="0.95"/>
<circle cx="519" cy="62.3" r="2.1" fill="#fff" stroke="#0000ff" stroke-width="0.95"/>
<circle cx="513.8" cy="62.8" r="2.1" fill="#fff" stroke="#0000ff" stroke-width="0.95"/>
<circle cx="507.6" cy="64" r="2.1" fill="#fff" stroke="#0000ff" stroke-width="0.95"/>
<circle cx="501.3" cy="65" r="2.1" fill="#fff" stroke="#0000ff" stroke-width="0.95"/>
<circle cx="495.7" cy="65.6" r="2.1" fill="#fff" stroke="#0000ff" stroke-width="0.95"/>
<circle cx="484.8" cy="66.6" r="2.1" fill="#fff" stroke="#0000ff" stroke-width="0.95"/>
<circle cx="473.8" cy="99.7" r="2.1" fill="#fff" stroke="#0000ff" stroke-width="0.95"/>
<circle cx="462.9" cy="114.6" r="2.1" fill="#fff" stroke="#0000ff" stroke-width="0.95"/>
<circle cx="449.5" cy="123.1" r="2.1" fill="#fff" stroke="#0000ff" stroke-width="0.95"/>
<circle cx="439" cy="125.2" r="2.1" fill="#fff" stroke="#0000ff" stroke-width="0.95"/>
<circle cx="426.5" cy="127.6" r="2.1" fill="#fff" stroke="#0000ff" stroke-width="0.95"/>
<circle cx="416.1" cy="129.5" r="2.1" fill="#fff" stroke="#0000ff" stroke-width="0.95"/>
<circle cx="406.2" cy="130.8" r="2.1" fill="#fff" stroke="#0000ff" stroke-width="0.95"/>
<circle cx="393.9" cy="131.7" r="2.1" fill="#fff" stroke="#0000ff" stroke-width="0.95"/>
<circle cx="381.4" cy="135.6" r="2.1" fill="#fff" stroke="#0000ff" stroke-width="0.95"/>
<circle cx="370.6" cy="136.5" r="2.1" fill="#fff" stroke="#0000ff" stroke-width="0.95"/>
<circle cx="359.8" cy="137.9" r="2.1" fill="#fff" stroke="#0000ff" stroke-width="0.95"/>
<circle cx="346.3" cy="140.3" r="2.1" fill="#fff" stroke="#0000ff" stroke-width="0.95"/>
<polyline points="318.8,144.3 324,141.7 330.3,140.3 334.5,139.6 339.3,139.1 348.4,137.4 352.9,136.8 357.6,136.2 361.9,135.6 372.4,134.4 384.2,133.4 395.3,132.2 406.2,130.4 416.1,129.1 426.5,127.3 439,125.2 452,123.2 461.9,119.2 473.4,112.7 482.8,102.7 494.7,72.9 501.3,65 507.6,64 513.8,62.8 519,62.3 524.2,61 528.1,60.4 533.3,59.1 537.2,57.8 539,56" fill="none" stroke="#0000ff" stroke-width="1.0" stroke-linejoin="round"/>
<circle cx="318.8" cy="144.3" r="2.1" fill="#fff" stroke="#0000ff" stroke-width="0.95"/>
<circle cx="324" cy="141.7" r="2.1" fill="#fff" stroke="#0000ff" stroke-width="0.95"/>
<circle cx="330.3" cy="140.3" r="2.1" fill="#fff" stroke="#0000ff" stroke-width="0.95"/>
<circle cx="334.5" cy="139.6" r="2.1" fill="#fff" stroke="#0000ff" stroke-width="0.95"/>
<circle cx="339.3" cy="139.1" r="2.1" fill="#fff" stroke="#0000ff" stroke-width="0.95"/>
<circle cx="348.4" cy="137.4" r="2.1" fill="#fff" stroke="#0000ff" stroke-width="0.95"/>
<circle cx="352.9" cy="136.8" r="2.1" fill="#fff" stroke="#0000ff" stroke-width="0.95"/>
<circle cx="357.6" cy="136.2" r="2.1" fill="#fff" stroke="#0000ff" stroke-width="0.95"/>
<circle cx="361.9" cy="135.6" r="2.1" fill="#fff" stroke="#0000ff" stroke-width="0.95"/>
<circle cx="372.4" cy="134.4" r="2.1" fill="#fff" stroke="#0000ff" stroke-width="0.95"/>
<circle cx="384.2" cy="133.4" r="2.1" fill="#fff" stroke="#0000ff" stroke-width="0.95"/>
<circle cx="395.3" cy="132.2" r="2.1" fill="#fff" stroke="#0000ff" stroke-width="0.95"/>
<circle cx="406.2" cy="130.4" r="2.1" fill="#fff" stroke="#0000ff" stroke-width="0.95"/>
<circle cx="416.1" cy="129.1" r="2.1" fill="#fff" stroke="#0000ff" stroke-width="0.95"/>
<circle cx="426.5" cy="127.3" r="2.1" fill="#fff" stroke="#0000ff" stroke-width="0.95"/>
<circle cx="439" cy="125.2" r="2.1" fill="#fff" stroke="#0000ff" stroke-width="0.95"/>
<circle cx="452" cy="123.2" r="2.1" fill="#fff" stroke="#0000ff" stroke-width="0.95"/>
<circle cx="461.9" cy="119.2" r="2.1" fill="#fff" stroke="#0000ff" stroke-width="0.95"/>
<circle cx="473.4" cy="112.7" r="2.1" fill="#fff" stroke="#0000ff" stroke-width="0.95"/>
<circle cx="482.8" cy="102.7" r="2.1" fill="#fff" stroke="#0000ff" stroke-width="0.95"/>
<circle cx="494.7" cy="72.9" r="2.1" fill="#fff" stroke="#0000ff" stroke-width="0.95"/>
<circle cx="501.3" cy="65" r="2.1" fill="#fff" stroke="#0000ff" stroke-width="0.95"/>
<circle cx="507.6" cy="64" r="2.1" fill="#fff" stroke="#0000ff" stroke-width="0.95"/>
<circle cx="513.8" cy="62.8" r="2.1" fill="#fff" stroke="#0000ff" stroke-width="0.95"/>
<circle cx="519" cy="62.3" r="2.1" fill="#fff" stroke="#0000ff" stroke-width="0.95"/>
<circle cx="524.2" cy="61" r="2.1" fill="#fff" stroke="#0000ff" stroke-width="0.95"/>
<circle cx="528.1" cy="60.4" r="2.1" fill="#fff" stroke="#0000ff" stroke-width="0.95"/>
<circle cx="533.3" cy="59.1" r="2.1" fill="#fff" stroke="#0000ff" stroke-width="0.95"/>
<circle cx="537.2" cy="57.8" r="2.1" fill="#fff" stroke="#0000ff" stroke-width="0.95"/>
<circle cx="539" cy="56" r="2.1" fill="#fff" stroke="#0000ff" stroke-width="0.95"/>
<polyline points="539,9.7 537.2,12.3 533.3,14.1 528.1,15.4 522.9,16.7 518.2,17.5 512.5,20.6 506,19.8 500.8,21.1 496.3,25.8 485.8,74.9 473.4,94.8 463,98.7 451.3,102.6" fill="none" stroke="#ff00ff" stroke-width="1.0" stroke-linejoin="round"/>
<path d="M539,7.07 L541.5,11.57 L536.5,11.57 Z" fill="#ff00ff"/>
<path d="M537.2,9.68 L539.7,14.18 L534.7,14.18 Z" fill="#ff00ff"/>
<path d="M533.3,11.47 L535.8,15.97 L530.8,15.97 Z" fill="#ff00ff"/>
<path d="M528.1,12.78 L530.6,17.27 L525.6,17.27 Z" fill="#ff00ff"/>
<path d="M522.9,14.07 L525.4,18.57 L520.4,18.57 Z" fill="#ff00ff"/>
<path d="M518.2,14.88 L520.7,19.38 L515.7,19.38 Z" fill="#ff00ff"/>
<path d="M512.5,17.98 L515,22.48 L510,22.48 Z" fill="#ff00ff"/>
<path d="M506,17.18 L508.5,21.68 L503.5,21.68 Z" fill="#ff00ff"/>
<path d="M500.8,18.48 L503.3,22.98 L498.3,22.98 Z" fill="#ff00ff"/>
<path d="M496.3,23.18 L498.8,27.68 L493.8,27.68 Z" fill="#ff00ff"/>
<path d="M485.8,72.28 L488.3,76.78 L483.3,76.78 Z" fill="#ff00ff"/>
<path d="M473.4,92.17 L475.9,96.67 L470.9,96.67 Z" fill="#ff00ff"/>
<path d="M463,96.08 L465.5,100.58 L460.5,100.58 Z" fill="#ff00ff"/>
<path d="M451.3,99.97 L453.8,104.47 L448.8,104.47 Z" fill="#ff00ff"/>
<polyline points="319.3,122.2 324,120.5 330.3,118.3 334.5,117.4 339,116.7 343.7,116.2 348.4,115.3 352.9,114.8 357.1,113.9 361.9,113.6 373.2,112.5 384.5,111.8 395.3,110.4 406.2,109 417.4,107.7 429.1,106.4 438.3,104.9 450,103 461.9,99.7 472.8,95.8 482.8,90.2 495.7,73.9 500.5,60 506,41.4 512.5,20.6 518.2,17.5 522.9,16.7 528.1,15.4 533.3,14.1 537.2,12.3 539,9.7" fill="none" stroke="#ff00ff" stroke-width="1.0" stroke-linejoin="round"/>
<path d="M319.3,119.58 L321.8,124.08 L316.8,124.08 Z" fill="#ff00ff"/>
<path d="M324,117.88 L326.5,122.38 L321.5,122.38 Z" fill="#ff00ff"/>
<path d="M330.3,115.67 L332.8,120.17 L327.8,120.17 Z" fill="#ff00ff"/>
<path d="M334.5,114.78 L337,119.28 L332,119.28 Z" fill="#ff00ff"/>
<path d="M339,114.08 L341.5,118.58 L336.5,118.58 Z" fill="#ff00ff"/>
<path d="M343.7,113.58 L346.2,118.08 L341.2,118.08 Z" fill="#ff00ff"/>
<path d="M348.4,112.67 L350.9,117.17 L345.9,117.17 Z" fill="#ff00ff"/>
<path d="M352.9,112.17 L355.4,116.67 L350.4,116.67 Z" fill="#ff00ff"/>
<path d="M357.1,111.28 L359.6,115.78 L354.6,115.78 Z" fill="#ff00ff"/>
<path d="M361.9,110.97 L364.4,115.47 L359.4,115.47 Z" fill="#ff00ff"/>
<path d="M373.2,109.88 L375.7,114.38 L370.7,114.38 Z" fill="#ff00ff"/>
<path d="M384.5,109.17 L387,113.67 L382,113.67 Z" fill="#ff00ff"/>
<path d="M395.3,107.78 L397.8,112.28 L392.8,112.28 Z" fill="#ff00ff"/>
<path d="M406.2,106.38 L408.7,110.88 L403.7,110.88 Z" fill="#ff00ff"/>
<path d="M417.4,105.08 L419.9,109.58 L414.9,109.58 Z" fill="#ff00ff"/>
<path d="M429.1,103.78 L431.6,108.28 L426.6,108.28 Z" fill="#ff00ff"/>
<path d="M438.3,102.28 L440.8,106.78 L435.8,106.78 Z" fill="#ff00ff"/>
<path d="M450,100.38 L452.5,104.88 L447.5,104.88 Z" fill="#ff00ff"/>
<path d="M461.9,97.08 L464.4,101.58 L459.4,101.58 Z" fill="#ff00ff"/>
<path d="M472.8,93.17 L475.3,97.67 L470.3,97.67 Z" fill="#ff00ff"/>
<path d="M482.8,87.58 L485.3,92.08 L480.3,92.08 Z" fill="#ff00ff"/>
<path d="M495.7,71.28 L498.2,75.78 L493.2,75.78 Z" fill="#ff00ff"/>
<path d="M500.5,57.38 L503,61.88 L498,61.88 Z" fill="#ff00ff"/>
<path d="M506,38.77 L508.5,43.27 L503.5,43.27 Z" fill="#ff00ff"/>
<path d="M512.5,17.98 L515,22.48 L510,22.48 Z" fill="#ff00ff"/>
<path d="M518.2,14.88 L520.7,19.38 L515.7,19.38 Z" fill="#ff00ff"/>
<path d="M522.9,14.07 L525.4,18.57 L520.4,18.57 Z" fill="#ff00ff"/>
<path d="M528.1,12.78 L530.6,17.27 L525.6,17.27 Z" fill="#ff00ff"/>
<path d="M533.3,11.47 L535.8,15.97 L530.8,15.97 Z" fill="#ff00ff"/>
<path d="M537.2,9.68 L539.7,14.18 L534.7,14.18 Z" fill="#ff00ff"/>
<path d="M539,7.07 L541.5,11.57 L536.5,11.57 Z" fill="#ff00ff"/>
<line x1="341.5" y1="16.8" x2="341.5" y2="85.7" stroke="#222" stroke-width="0.9"/>
<line x1="341.5" y1="85.7" x2="434.8" y2="85.7" stroke="#222" stroke-width="0.9"/>
<line x1="341.5" y1="85.7" x2="341.5" y2="87.7" stroke="#222" stroke-width="0.8"/>
<text class="t" x="341.5" y="95" font-size="7.4" text-anchor="middle" fill="#1a1a1a" >0</text>
<line x1="349.27" y1="85.7" x2="349.27" y2="87" stroke="#222" stroke-width="0.8"/>
<line x1="357.05" y1="85.7" x2="357.05" y2="87.7" stroke="#222" stroke-width="0.8"/>
<text class="t" x="357.05" y="95" font-size="7.4" text-anchor="middle" fill="#1a1a1a" >10</text>
<line x1="364.82" y1="85.7" x2="364.82" y2="87" stroke="#222" stroke-width="0.8"/>
<line x1="372.6" y1="85.7" x2="372.6" y2="87.7" stroke="#222" stroke-width="0.8"/>
<text class="t" x="372.6" y="95" font-size="7.4" text-anchor="middle" fill="#1a1a1a" >20</text>
<line x1="380.38" y1="85.7" x2="380.38" y2="87" stroke="#222" stroke-width="0.8"/>
<line x1="388.15" y1="85.7" x2="388.15" y2="87.7" stroke="#222" stroke-width="0.8"/>
<text class="t" x="388.15" y="95" font-size="7.4" text-anchor="middle" fill="#1a1a1a" >30</text>
<line x1="395.93" y1="85.7" x2="395.93" y2="87" stroke="#222" stroke-width="0.8"/>
<line x1="403.7" y1="85.7" x2="403.7" y2="87.7" stroke="#222" stroke-width="0.8"/>
<text class="t" x="403.7" y="95" font-size="7.4" text-anchor="middle" fill="#1a1a1a" >40</text>
<line x1="411.48" y1="85.7" x2="411.48" y2="87" stroke="#222" stroke-width="0.8"/>
<line x1="419.25" y1="85.7" x2="419.25" y2="87.7" stroke="#222" stroke-width="0.8"/>
<text class="t" x="419.25" y="95" font-size="7.4" text-anchor="middle" fill="#1a1a1a" >50</text>
<line x1="427.03" y1="85.7" x2="427.03" y2="87" stroke="#222" stroke-width="0.8"/>
<line x1="434.8" y1="85.7" x2="434.8" y2="87.7" stroke="#222" stroke-width="0.8"/>
<text class="t" x="434.8" y="95" font-size="7.4" text-anchor="middle" fill="#1a1a1a" >60</text>
<line x1="339.5" y1="81.1" x2="341.5" y2="81.1" stroke="#222" stroke-width="0.8"/>
<text class="t" x="339.6" y="83.7" font-size="7.4" text-anchor="end" fill="#1a1a1a" >0.0</text>
<line x1="339.5" y1="66.5" x2="341.5" y2="66.5" stroke="#222" stroke-width="0.8"/>
<text class="t" x="339.6" y="69.1" font-size="7.4" text-anchor="end" fill="#1a1a1a" >0.8</text>
<line x1="339.5" y1="51.9" x2="341.5" y2="51.9" stroke="#222" stroke-width="0.8"/>
<text class="t" x="339.6" y="54.5" font-size="7.4" text-anchor="end" fill="#1a1a1a" >1.6</text>
<line x1="339.5" y1="37.3" x2="341.5" y2="37.3" stroke="#222" stroke-width="0.8"/>
<text class="t" x="339.6" y="39.9" font-size="7.4" text-anchor="end" fill="#1a1a1a" >2.4</text>
<line x1="339.5" y1="22.7" x2="341.5" y2="22.7" stroke="#222" stroke-width="0.8"/>
<text class="t" x="339.6" y="25.3" font-size="7.4" text-anchor="end" fill="#1a1a1a" >3.2</text>
<line x1="340.2" y1="73.8" x2="341.5" y2="73.8" stroke="#222" stroke-width="0.8"/>
<line x1="340.2" y1="59.2" x2="341.5" y2="59.2" stroke="#222" stroke-width="0.8"/>
<line x1="340.2" y1="44.6" x2="341.5" y2="44.6" stroke="#222" stroke-width="0.8"/>
<line x1="340.2" y1="30" x2="341.5" y2="30" stroke="#222" stroke-width="0.8"/>
<text class="t" x="387.8" y="100" font-size="7.4" text-anchor="middle" fill="#1a1a1a" >Pore size (nm)</text>
<text transform="translate(326.6,79.6) rotate(-90)" class="t" font-size="7.0" fill="#1a1a1a">dV/dlogD (cm<tspan font-size="5.25" dy="-3">3</tspan><tspan dy="3">/g)</tspan></text>
<polyline points="346.63,80.73 348.03,78.91 348.96,73.07 350.36,52.99 351.61,32.92 353.32,75.62 355.5,81.1 359.38,81.1 366.07,81.1 370.58,81.1 383.8,81.1 434.8,81.1" fill="none" stroke="#9a9a9a" stroke-width="0.8" stroke-linejoin="round"/>
<rect x="345.3" y="79.41" width="2.66" height="2.66" fill="#9a9a9a"/>
<rect x="346.7" y="77.58" width="2.66" height="2.66" fill="#9a9a9a"/>
<rect x="347.63" y="71.74" width="2.66" height="2.66" fill="#9a9a9a"/>
<rect x="349.03" y="51.66" width="2.66" height="2.66" fill="#9a9a9a"/>
<rect x="350.28" y="31.59" width="2.66" height="2.66" fill="#9a9a9a"/>
<rect x="351.99" y="74.3" width="2.66" height="2.66" fill="#9a9a9a"/>
<rect x="354.17" y="79.77" width="2.66" height="2.66" fill="#9a9a9a"/>
<rect x="358.05" y="79.77" width="2.66" height="2.66" fill="#9a9a9a"/>
<rect x="364.74" y="79.77" width="2.66" height="2.66" fill="#9a9a9a"/>
<rect x="369.25" y="79.77" width="2.66" height="2.66" fill="#9a9a9a"/>
<rect x="382.47" y="79.77" width="2.66" height="2.66" fill="#9a9a9a"/>
<polyline points="346.63,81.1 348.03,78.54 349.74,73.98 351.61,54.82 353.78,35.66 356.12,81.1 359.38,81.1 366.07,81.1 370.58,81.1 390.33,81.1 406.03,81.1 434.8,81.1" fill="none" stroke="#0000ff" stroke-width="0.8" stroke-linejoin="round"/>
<circle cx="346.63" cy="81.1" r="1.47" fill="#fff" stroke="#0000ff" stroke-width="0.66"/>
<circle cx="348.03" cy="78.54" r="1.47" fill="#fff" stroke="#0000ff" stroke-width="0.66"/>
<circle cx="349.74" cy="73.98" r="1.47" fill="#fff" stroke="#0000ff" stroke-width="0.66"/>
<circle cx="351.61" cy="54.82" r="1.47" fill="#fff" stroke="#0000ff" stroke-width="0.66"/>
<circle cx="353.78" cy="35.66" r="1.47" fill="#fff" stroke="#0000ff" stroke-width="0.66"/>
<circle cx="356.12" cy="81.1" r="1.47" fill="#fff" stroke="#0000ff" stroke-width="0.66"/>
<circle cx="359.38" cy="81.1" r="1.47" fill="#fff" stroke="#0000ff" stroke-width="0.66"/>
<circle cx="366.07" cy="81.1" r="1.47" fill="#fff" stroke="#0000ff" stroke-width="0.66"/>
<circle cx="370.58" cy="81.1" r="1.47" fill="#fff" stroke="#0000ff" stroke-width="0.66"/>
<circle cx="390.33" cy="81.1" r="1.47" fill="#fff" stroke="#0000ff" stroke-width="0.66"/>
<circle cx="406.03" cy="81.1" r="1.47" fill="#fff" stroke="#0000ff" stroke-width="0.66"/>
<polyline points="346.63,81.1 348.5,80.19 350.21,78.36 351.61,74.89 353.47,61.75 356.12,25.62 359.38,71.79 361.56,81.1 366.07,81.1 370.58,81.1 376.02,81.1 392.5,81.1 416.45,81.1 434.8,81.1" fill="none" stroke="#ff00ff" stroke-width="0.8" stroke-linejoin="round"/>
<path d="M346.63,79.26 L348.38,82.41 L344.88,82.41 Z" fill="#ff00ff"/>
<path d="M348.5,78.35 L350.25,81.5 L346.75,81.5 Z" fill="#ff00ff"/>
<path d="M350.21,76.52 L351.96,79.67 L348.46,79.67 Z" fill="#ff00ff"/>
<path d="M351.61,73.06 L353.36,76.21 L349.86,76.21 Z" fill="#ff00ff"/>
<path d="M353.47,59.92 L355.22,63.07 L351.72,63.07 Z" fill="#ff00ff"/>
<path d="M356.12,23.78 L357.87,26.93 L354.37,26.93 Z" fill="#ff00ff"/>
<path d="M359.38,69.95 L361.13,73.1 L357.63,73.1 Z" fill="#ff00ff"/>
<path d="M361.56,79.26 L363.31,82.41 L359.81,82.41 Z" fill="#ff00ff"/>
<path d="M366.07,79.26 L367.82,82.41 L364.32,82.41 Z" fill="#ff00ff"/>
<path d="M370.58,79.26 L372.33,82.41 L368.83,82.41 Z" fill="#ff00ff"/>
<path d="M376.02,79.26 L377.77,82.41 L374.27,82.41 Z" fill="#ff00ff"/>
<path d="M392.5,79.26 L394.25,82.41 L390.75,82.41 Z" fill="#ff00ff"/>
<path d="M416.45,79.26 L418.2,82.41 L414.7,82.41 Z" fill="#ff00ff"/>
<line x1="366.4" y1="29.9" x2="374" y2="29.9" stroke="#9a9a9a" stroke-width="0.9"/>
<rect x="368.77" y="28.47" width="2.85" height="2.85" fill="#9a9a9a"/>
<text class="t" x="375" y="31.5" font-size="7.3" text-anchor="start" fill="#1a1a1a" >NiO/5LSBA-120</text>
<line x1="366.4" y1="39.3" x2="374" y2="39.3" stroke="#0000ff" stroke-width="0.9"/>
<circle cx="370.2" cy="39.3" r="1.58" fill="#fff" stroke="#0000ff" stroke-width="0.71"/>
<text class="t" x="375" y="40.9" font-size="7.3" text-anchor="start" fill="#1a1a1a" >NiO/5LSBA-140</text>
<line x1="366.4" y1="47.7" x2="374" y2="47.7" stroke="#ff00ff" stroke-width="0.9"/>
<path d="M370.2,45.73 L372.07,49.11 L368.32,49.11 Z" fill="#ff00ff"/>
<text class="t" x="375" y="49.3" font-size="7.3" text-anchor="start" fill="#1a1a1a" >NiO/5LSBA-160</text>
<rect x="45.6" y="209.6" width="223" height="163.7" fill="none" stroke="#333" stroke-width="1.4"/>
<line x1="45.6" y1="373.3" x2="45.6" y2="376.6" stroke="#222" stroke-width="1.0"/>
<text class="t" x="45.6" y="386.1" font-size="9" text-anchor="middle" fill="#1a1a1a" >0.0</text>
<line x1="67.9" y1="373.3" x2="67.9" y2="375.3" stroke="#222" stroke-width="1.0"/>
<line x1="90.2" y1="373.3" x2="90.2" y2="376.6" stroke="#222" stroke-width="1.0"/>
<text class="t" x="90.2" y="386.1" font-size="9" text-anchor="middle" fill="#1a1a1a" >0.2</text>
<line x1="112.5" y1="373.3" x2="112.5" y2="375.3" stroke="#222" stroke-width="1.0"/>
<line x1="134.8" y1="373.3" x2="134.8" y2="376.6" stroke="#222" stroke-width="1.0"/>
<text class="t" x="134.8" y="386.1" font-size="9" text-anchor="middle" fill="#1a1a1a" >0.4</text>
<line x1="157.1" y1="373.3" x2="157.1" y2="375.3" stroke="#222" stroke-width="1.0"/>
<line x1="179.4" y1="373.3" x2="179.4" y2="376.6" stroke="#222" stroke-width="1.0"/>
<text class="t" x="179.4" y="386.1" font-size="9" text-anchor="middle" fill="#1a1a1a" >0.6</text>
<line x1="201.7" y1="373.3" x2="201.7" y2="375.3" stroke="#222" stroke-width="1.0"/>
<line x1="224" y1="373.3" x2="224" y2="376.6" stroke="#222" stroke-width="1.0"/>
<text class="t" x="224" y="386.1" font-size="9" text-anchor="middle" fill="#1a1a1a" >0.8</text>
<line x1="246.3" y1="373.3" x2="246.3" y2="375.3" stroke="#222" stroke-width="1.0"/>
<line x1="268.6" y1="373.3" x2="268.6" y2="376.6" stroke="#222" stroke-width="1.0"/>
<text class="t" x="268.6" y="386.1" font-size="9" text-anchor="middle" fill="#1a1a1a" >1.0</text>
<line x1="42.3" y1="373.3" x2="45.6" y2="373.3" stroke="#222" stroke-width="1.0"/>
<text class="t" x="39.8" y="375.9" font-size="9" text-anchor="end" fill="#1a1a1a" >0</text>
<line x1="42.3" y1="340.56" x2="45.6" y2="340.56" stroke="#222" stroke-width="1.0"/>
<text class="t" x="39.8" y="343.16" font-size="9" text-anchor="end" fill="#1a1a1a" >100</text>
<line x1="42.3" y1="307.82" x2="45.6" y2="307.82" stroke="#222" stroke-width="1.0"/>
<text class="t" x="39.8" y="310.42" font-size="9" text-anchor="end" fill="#1a1a1a" >200</text>
<line x1="42.3" y1="275.08" x2="45.6" y2="275.08" stroke="#222" stroke-width="1.0"/>
<text class="t" x="39.8" y="277.68" font-size="9" text-anchor="end" fill="#1a1a1a" >300</text>
<line x1="42.3" y1="242.34" x2="45.6" y2="242.34" stroke="#222" stroke-width="1.0"/>
<text class="t" x="39.8" y="244.94" font-size="9" text-anchor="end" fill="#1a1a1a" >400</text>
<line x1="42.3" y1="209.6" x2="45.6" y2="209.6" stroke="#222" stroke-width="1.0"/>
<text class="t" x="39.8" y="212.2" font-size="9" text-anchor="end" fill="#1a1a1a" >500</text>
<line x1="43.6" y1="356.93" x2="45.6" y2="356.93" stroke="#222" stroke-width="1.0"/>
<line x1="43.6" y1="324.19" x2="45.6" y2="324.19" stroke="#222" stroke-width="1.0"/>
<line x1="43.6" y1="291.45" x2="45.6" y2="291.45" stroke="#222" stroke-width="1.0"/>
<line x1="43.6" y1="258.71" x2="45.6" y2="258.71" stroke="#222" stroke-width="1.0"/>
<line x1="43.6" y1="225.97" x2="45.6" y2="225.97" stroke="#222" stroke-width="1.0"/>
<text class="t" x="160.8" y="397.7" font-size="9.5" text-anchor="middle" fill="#1a1a1a" >Relative pressure (P/Po)</text>
<text transform="translate(16.8,363.5) rotate(-90)" class="t" font-size="9.6" fill="#1a1a1a">Quantity adsorbed (cm<tspan font-size="7.5" dy="-5.6">3</tspan><tspan dy="5.6">g</tspan><tspan font-size="10" dy="-5.6">—</tspan><tspan font-size="7.5">1</tspan><tspan dy="5.6"> STP)</tspan></text>
<polyline points="267.2,267.1 265.8,268.8 263.2,270.6 260.6,272.3 256.3,273.5 251.9,274.1 246.7,274.9 240.6,277.5 235.4,277.5 230.2,278.4 224.1,283.3 221.5,294 213.1,326.4 200.1,343.6 190.2,349.5" fill="none" stroke="#ff00ff" stroke-width="1.0" stroke-linejoin="round"/>
<path d="M267.2,264.48 L269.7,268.98 L264.7,268.98 Z" fill="#ff00ff"/>
<path d="M265.8,266.18 L268.3,270.68 L263.3,270.68 Z" fill="#ff00ff"/>
<path d="M263.2,267.98 L265.7,272.48 L260.7,272.48 Z" fill="#ff00ff"/>
<path d="M260.6,269.68 L263.1,274.18 L258.1,274.18 Z" fill="#ff00ff"/>
<path d="M256.3,270.88 L258.8,275.38 L253.8,275.38 Z" fill="#ff00ff"/>
<path d="M251.9,271.48 L254.4,275.98 L249.4,275.98 Z" fill="#ff00ff"/>
<path d="M246.7,272.27 L249.2,276.77 L244.2,276.77 Z" fill="#ff00ff"/>
<path d="M240.6,274.88 L243.1,279.38 L238.1,279.38 Z" fill="#ff00ff"/>
<path d="M235.4,274.88 L237.9,279.38 L232.9,279.38 Z" fill="#ff00ff"/>
<path d="M230.2,275.77 L232.7,280.27 L227.7,280.27 Z" fill="#ff00ff"/>
<path d="M224.1,280.68 L226.6,285.18 L221.6,285.18 Z" fill="#ff00ff"/>
<path d="M221.5,291.38 L224,295.88 L219,295.88 Z" fill="#ff00ff"/>
<path d="M213.1,323.77 L215.6,328.27 L210.6,328.27 Z" fill="#ff00ff"/>
<path d="M200.1,340.98 L202.6,345.48 L197.6,345.48 Z" fill="#ff00ff"/>
<path d="M190.2,346.88 L192.7,351.38 L187.7,351.38 Z" fill="#ff00ff"/>
<polyline points="47.5,370.2 52.4,368.1 58.7,366 62.9,365.3 67.8,364.5 72.4,364.3 77.3,363.8 81.5,363.4 85.7,363 89.9,362.4 100.9,361.7 112.5,360.7 124.1,359.6 134.7,358.6 145.9,356.6 156.5,355.4 167.1,354.5 177.2,352.6 190.2,349.5 201.3,346.5 210.6,341.3 222.8,327.4 228,318.1 233.7,298 240.6,277.5 246.7,274.9 251.9,274.1 256.3,273.5 260.6,272.3 263.2,270.6 265.8,268.8 267.2,267.1" fill="none" stroke="#ff00ff" stroke-width="1.0" stroke-linejoin="round"/>
<path d="M47.5,367.57 L50,372.07 L45,372.07 Z" fill="#ff00ff"/>
<path d="M52.4,365.48 L54.9,369.98 L49.9,369.98 Z" fill="#ff00ff"/>
<path d="M58.7,363.38 L61.2,367.88 L56.2,367.88 Z" fill="#ff00ff"/>
<path d="M62.9,362.68 L65.4,367.18 L60.4,367.18 Z" fill="#ff00ff"/>
<path d="M67.8,361.88 L70.3,366.38 L65.3,366.38 Z" fill="#ff00ff"/>
<path d="M72.4,361.68 L74.9,366.18 L69.9,366.18 Z" fill="#ff00ff"/>
<path d="M77.3,361.18 L79.8,365.68 L74.8,365.68 Z" fill="#ff00ff"/>
<path d="M81.5,360.77 L84,365.27 L79,365.27 Z" fill="#ff00ff"/>
<path d="M85.7,360.38 L88.2,364.88 L83.2,364.88 Z" fill="#ff00ff"/>
<path d="M89.9,359.77 L92.4,364.27 L87.4,364.27 Z" fill="#ff00ff"/>
<path d="M100.9,359.07 L103.4,363.57 L98.4,363.57 Z" fill="#ff00ff"/>
<path d="M112.5,358.07 L115,362.57 L110,362.57 Z" fill="#ff00ff"/>
<path d="M124.1,356.98 L126.6,361.48 L121.6,361.48 Z" fill="#ff00ff"/>
<path d="M134.7,355.98 L137.2,360.48 L132.2,360.48 Z" fill="#ff00ff"/>
<path d="M145.9,353.98 L148.4,358.48 L143.4,358.48 Z" fill="#ff00ff"/>
<path d="M156.5,352.77 L159,357.27 L154,357.27 Z" fill="#ff00ff"/>
<path d="M167.1,351.88 L169.6,356.38 L164.6,356.38 Z" fill="#ff00ff"/>
<path d="M177.2,349.98 L179.7,354.48 L174.7,354.48 Z" fill="#ff00ff"/>
<path d="M190.2,346.88 L192.7,351.38 L187.7,351.38 Z" fill="#ff00ff"/>
<path d="M201.3,343.88 L203.8,348.38 L198.8,348.38 Z" fill="#ff00ff"/>
<path d="M210.6,338.68 L213.1,343.18 L208.1,343.18 Z" fill="#ff00ff"/>
<path d="M222.8,324.77 L225.3,329.27 L220.3,329.27 Z" fill="#ff00ff"/>
<path d="M228,315.48 L230.5,319.98 L225.5,319.98 Z" fill="#ff00ff"/>
<path d="M233.7,295.38 L236.2,299.88 L231.2,299.88 Z" fill="#ff00ff"/>
<path d="M240.6,274.88 L243.1,279.38 L238.1,279.38 Z" fill="#ff00ff"/>
<path d="M246.7,272.27 L249.2,276.77 L244.2,276.77 Z" fill="#ff00ff"/>
<path d="M251.9,271.48 L254.4,275.98 L249.4,275.98 Z" fill="#ff00ff"/>
<path d="M256.3,270.88 L258.8,275.38 L253.8,275.38 Z" fill="#ff00ff"/>
<path d="M260.6,269.68 L263.1,274.18 L258.1,274.18 Z" fill="#ff00ff"/>
<path d="M263.2,267.98 L265.7,272.48 L260.7,272.48 Z" fill="#ff00ff"/>
<path d="M265.8,266.18 L268.3,270.68 L263.3,270.68 Z" fill="#ff00ff"/>
<path d="M267.2,264.48 L269.7,268.98 L264.7,268.98 Z" fill="#ff00ff"/>
<polyline points="266.7,233.2 265.8,235 264.1,237.6 262.4,240.2 259,243 255.7,245.4 252.8,245.4 249.3,247.1 244.6,246.8 241.8,248 237.2,248 229.7,248.5 224.5,249.7 212.8,286.2 200.1,302.4 188.3,308.8 178.2,310.6 164.7,313.5" fill="none" stroke="#2e9c94" stroke-width="1.0" stroke-linejoin="round"/>
<path d="M266.7,230.6 L269.17,233.2 L266.7,235.8 L264.23,233.2 Z" fill="#fff" stroke="#2e9c94" stroke-width="0.95"/>
<path d="M265.8,232.4 L268.27,235 L265.8,237.6 L263.33,235 Z" fill="#fff" stroke="#2e9c94" stroke-width="0.95"/>
<path d="M264.1,235 L266.57,237.6 L264.1,240.2 L261.63,237.6 Z" fill="#fff" stroke="#2e9c94" stroke-width="0.95"/>
<path d="M262.4,237.6 L264.87,240.2 L262.4,242.8 L259.93,240.2 Z" fill="#fff" stroke="#2e9c94" stroke-width="0.95"/>
<path d="M259,240.4 L261.47,243 L259,245.6 L256.53,243 Z" fill="#fff" stroke="#2e9c94" stroke-width="0.95"/>
<path d="M255.7,242.8 L258.17,245.4 L255.7,248 L253.23,245.4 Z" fill="#fff" stroke="#2e9c94" stroke-width="0.95"/>
<path d="M252.8,242.8 L255.27,245.4 L252.8,248 L250.33,245.4 Z" fill="#fff" stroke="#2e9c94" stroke-width="0.95"/>
<path d="M249.3,244.5 L251.77,247.1 L249.3,249.7 L246.83,247.1 Z" fill="#fff" stroke="#2e9c94" stroke-width="0.95"/>
<path d="M244.6,244.2 L247.07,246.8 L244.6,249.4 L242.13,246.8 Z" fill="#fff" stroke="#2e9c94" stroke-width="0.95"/>
<path d="M241.8,245.4 L244.27,248 L241.8,250.6 L239.33,248 Z" fill="#fff" stroke="#2e9c94" stroke-width="0.95"/>
<path d="M237.2,245.4 L239.67,248 L237.2,250.6 L234.73,248 Z" fill="#fff" stroke="#2e9c94" stroke-width="0.95"/>
<path d="M229.7,245.9 L232.17,248.5 L229.7,251.1 L227.23,248.5 Z" fill="#fff" stroke="#2e9c94" stroke-width="0.95"/>
<path d="M224.5,247.1 L226.97,249.7 L224.5,252.3 L222.03,249.7 Z" fill="#fff" stroke="#2e9c94" stroke-width="0.95"/>
<path d="M212.8,283.6 L215.27,286.2 L212.8,288.8 L210.33,286.2 Z" fill="#fff" stroke="#2e9c94" stroke-width="0.95"/>
<path d="M200.1,299.8 L202.57,302.4 L200.1,305 L197.63,302.4 Z" fill="#fff" stroke="#2e9c94" stroke-width="0.95"/>
<path d="M188.3,306.2 L190.77,308.8 L188.3,311.4 L185.83,308.8 Z" fill="#fff" stroke="#2e9c94" stroke-width="0.95"/>
<path d="M178.2,308 L180.67,310.6 L178.2,313.2 L175.73,310.6 Z" fill="#fff" stroke="#2e9c94" stroke-width="0.95"/>
<path d="M164.7,310.9 L167.17,313.5 L164.7,316.1 L162.23,313.5 Z" fill="#fff" stroke="#2e9c94" stroke-width="0.95"/>
<polyline points="47.5,328.6 53,326.5 59.3,324.8 63.6,324.2 67.8,323.3 72.4,322.7 76.6,322.3 80.9,322.3 85.5,321.6 90.4,321.6 101.5,320.6 112.5,319.5 123.5,318.1 134.7,317.4 145.9,315.8 157,314.2 167.8,313.5 178.2,310.6 188.3,308.8 201.7,305.5 210.6,299.7 222.4,287.4 227.6,276.7 234.9,255.5 241.8,248 244.6,246.8 249.3,247.1 252.8,245.4 255.7,245.4 259,243 262.4,240.2 264.1,237.6 265.8,235 266.7,233.2" fill="none" stroke="#2e9c94" stroke-width="1.0" stroke-linejoin="round"/>
<path d="M47.5,326 L49.97,328.6 L47.5,331.2 L45.03,328.6 Z" fill="#fff" stroke="#2e9c94" stroke-width="0.95"/>
<path d="M53,323.9 L55.47,326.5 L53,329.1 L50.53,326.5 Z" fill="#fff" stroke="#2e9c94" stroke-width="0.95"/>
<path d="M59.3,322.2 L61.77,324.8 L59.3,327.4 L56.83,324.8 Z" fill="#fff" stroke="#2e9c94" stroke-width="0.95"/>
<path d="M63.6,321.6 L66.07,324.2 L63.6,326.8 L61.13,324.2 Z" fill="#fff" stroke="#2e9c94" stroke-width="0.95"/>
<path d="M67.8,320.7 L70.27,323.3 L67.8,325.9 L65.33,323.3 Z" fill="#fff" stroke="#2e9c94" stroke-width="0.95"/>
<path d="M72.4,320.1 L74.87,322.7 L72.4,325.3 L69.93,322.7 Z" fill="#fff" stroke="#2e9c94" stroke-width="0.95"/>
<path d="M76.6,319.7 L79.07,322.3 L76.6,324.9 L74.13,322.3 Z" fill="#fff" stroke="#2e9c94" stroke-width="0.95"/>
<path d="M80.9,319.7 L83.37,322.3 L80.9,324.9 L78.43,322.3 Z" fill="#fff" stroke="#2e9c94" stroke-width="0.95"/>
<path d="M85.5,319 L87.97,321.6 L85.5,324.2 L83.03,321.6 Z" fill="#fff" stroke="#2e9c94" stroke-width="0.95"/>
<path d="M90.4,319 L92.87,321.6 L90.4,324.2 L87.93,321.6 Z" fill="#fff" stroke="#2e9c94" stroke-width="0.95"/>
<path d="M101.5,318 L103.97,320.6 L101.5,323.2 L99.03,320.6 Z" fill="#fff" stroke="#2e9c94" stroke-width="0.95"/>
<path d="M112.5,316.9 L114.97,319.5 L112.5,322.1 L110.03,319.5 Z" fill="#fff" stroke="#2e9c94" stroke-width="0.95"/>
<path d="M123.5,315.5 L125.97,318.1 L123.5,320.7 L121.03,318.1 Z" fill="#fff" stroke="#2e9c94" stroke-width="0.95"/>
<path d="M134.7,314.8 L137.17,317.4 L134.7,320 L132.23,317.4 Z" fill="#fff" stroke="#2e9c94" stroke-width="0.95"/>
<path d="M145.9,313.2 L148.37,315.8 L145.9,318.4 L143.43,315.8 Z" fill="#fff" stroke="#2e9c94" stroke-width="0.95"/>
<path d="M157,311.6 L159.47,314.2 L157,316.8 L154.53,314.2 Z" fill="#fff" stroke="#2e9c94" stroke-width="0.95"/>
<path d="M167.8,310.9 L170.27,313.5 L167.8,316.1 L165.33,313.5 Z" fill="#fff" stroke="#2e9c94" stroke-width="0.95"/>
<path d="M178.2,308 L180.67,310.6 L178.2,313.2 L175.73,310.6 Z" fill="#fff" stroke="#2e9c94" stroke-width="0.95"/>
<path d="M188.3,306.2 L190.77,308.8 L188.3,311.4 L185.83,308.8 Z" fill="#fff" stroke="#2e9c94" stroke-width="0.95"/>
<path d="M201.7,302.9 L204.17,305.5 L201.7,308.1 L199.23,305.5 Z" fill="#fff" stroke="#2e9c94" stroke-width="0.95"/>
<path d="M210.6,297.1 L213.07,299.7 L210.6,302.3 L208.13,299.7 Z" fill="#fff" stroke="#2e9c94" stroke-width="0.95"/>
<path d="M222.4,284.8 L224.87,287.4 L222.4,290 L219.93,287.4 Z" fill="#fff" stroke="#2e9c94" stroke-width="0.95"/>
<path d="M227.6,274.1 L230.07,276.7 L227.6,279.3 L225.13,276.7 Z" fill="#fff" stroke="#2e9c94" stroke-width="0.95"/>
<path d="M234.9,252.9 L237.37,255.5 L234.9,258.1 L232.43,255.5 Z" fill="#fff" stroke="#2e9c94" stroke-width="0.95"/>
<path d="M241.8,245.4 L244.27,248 L241.8,250.6 L239.33,248 Z" fill="#fff" stroke="#2e9c94" stroke-width="0.95"/>
<path d="M244.6,244.2 L247.07,246.8 L244.6,249.4 L242.13,246.8 Z" fill="#fff" stroke="#2e9c94" stroke-width="0.95"/>
<path d="M249.3,244.5 L251.77,247.1 L249.3,249.7 L246.83,247.1 Z" fill="#fff" stroke="#2e9c94" stroke-width="0.95"/>
<path d="M252.8,242.8 L255.27,245.4 L252.8,248 L250.33,245.4 Z" fill="#fff" stroke="#2e9c94" stroke-width="0.95"/>
<path d="M255.7,242.8 L258.17,245.4 L255.7,248 L253.23,245.4 Z" fill="#fff" stroke="#2e9c94" stroke-width="0.95"/>
<path d="M259,240.4 L261.47,243 L259,245.6 L256.53,243 Z" fill="#fff" stroke="#2e9c94" stroke-width="0.95"/>
<path d="M262.4,237.6 L264.87,240.2 L262.4,242.8 L259.93,240.2 Z" fill="#fff" stroke="#2e9c94" stroke-width="0.95"/>
<path d="M264.1,235 L266.57,237.6 L264.1,240.2 L261.63,237.6 Z" fill="#fff" stroke="#2e9c94" stroke-width="0.95"/>
<path d="M265.8,232.4 L268.27,235 L265.8,237.6 L263.33,235 Z" fill="#fff" stroke="#2e9c94" stroke-width="0.95"/>
<path d="M266.7,230.6 L269.17,233.2 L266.7,235.8 L264.23,233.2 Z" fill="#fff" stroke="#2e9c94" stroke-width="0.95"/>
<line x1="70.3" y1="223.3" x2="70.3" y2="291" stroke="#222" stroke-width="0.9"/>
<line x1="70.3" y1="291" x2="165.4" y2="291" stroke="#222" stroke-width="0.9"/>
<line x1="70.3" y1="291" x2="70.3" y2="293" stroke="#222" stroke-width="0.8"/>
<text class="t" x="70.3" y="299.6" font-size="7.5" text-anchor="middle" fill="#1a1a1a" >0</text>
<line x1="78.22" y1="291" x2="78.22" y2="292.3" stroke="#222" stroke-width="0.8"/>
<line x1="86.15" y1="291" x2="86.15" y2="293" stroke="#222" stroke-width="0.8"/>
<text class="t" x="86.15" y="299.6" font-size="7.5" text-anchor="middle" fill="#1a1a1a" >10</text>
<line x1="94.08" y1="291" x2="94.08" y2="292.3" stroke="#222" stroke-width="0.8"/>
<line x1="102" y1="291" x2="102" y2="293" stroke="#222" stroke-width="0.8"/>
<text class="t" x="102" y="299.6" font-size="7.5" text-anchor="middle" fill="#1a1a1a" >20</text>
<line x1="109.92" y1="291" x2="109.92" y2="292.3" stroke="#222" stroke-width="0.8"/>
<line x1="117.85" y1="291" x2="117.85" y2="293" stroke="#222" stroke-width="0.8"/>
<text class="t" x="117.85" y="299.6" font-size="7.5" text-anchor="middle" fill="#1a1a1a" >30</text>
<line x1="125.78" y1="291" x2="125.78" y2="292.3" stroke="#222" stroke-width="0.8"/>
<line x1="133.7" y1="291" x2="133.7" y2="293" stroke="#222" stroke-width="0.8"/>
<text class="t" x="133.7" y="299.6" font-size="7.5" text-anchor="middle" fill="#1a1a1a" >40</text>
<line x1="141.62" y1="291" x2="141.62" y2="292.3" stroke="#222" stroke-width="0.8"/>
<line x1="149.55" y1="291" x2="149.55" y2="293" stroke="#222" stroke-width="0.8"/>
<text class="t" x="149.55" y="299.6" font-size="7.5" text-anchor="middle" fill="#1a1a1a" >50</text>
<line x1="157.48" y1="291" x2="157.48" y2="292.3" stroke="#222" stroke-width="0.8"/>
<line x1="165.4" y1="291" x2="165.4" y2="293" stroke="#222" stroke-width="0.8"/>
<text class="t" x="165.4" y="299.6" font-size="7.5" text-anchor="middle" fill="#1a1a1a" >60</text>
<line x1="68.3" y1="285.8" x2="70.3" y2="285.8" stroke="#222" stroke-width="0.8"/>
<text class="t" x="68.4" y="288.4" font-size="7.5" text-anchor="end" fill="#1a1a1a" >0.0</text>
<line x1="68.3" y1="271.08" x2="70.3" y2="271.08" stroke="#222" stroke-width="0.8"/>
<text class="t" x="68.4" y="273.68" font-size="7.5" text-anchor="end" fill="#1a1a1a" >0.8</text>
<line x1="68.3" y1="256.36" x2="70.3" y2="256.36" stroke="#222" stroke-width="0.8"/>
<text class="t" x="68.4" y="258.96" font-size="7.5" text-anchor="end" fill="#1a1a1a" >1.6</text>
<line x1="68.3" y1="241.64" x2="70.3" y2="241.64" stroke="#222" stroke-width="0.8"/>
<text class="t" x="68.4" y="244.24" font-size="7.5" text-anchor="end" fill="#1a1a1a" >2.4</text>
<line x1="68.3" y1="226.92" x2="70.3" y2="226.92" stroke="#222" stroke-width="0.8"/>
<text class="t" x="68.4" y="229.52" font-size="7.5" text-anchor="end" fill="#1a1a1a" >3.2</text>
<line x1="69" y1="278.44" x2="70.3" y2="278.44" stroke="#222" stroke-width="0.8"/>
<line x1="69" y1="263.72" x2="70.3" y2="263.72" stroke="#222" stroke-width="0.8"/>
<line x1="69" y1="249" x2="70.3" y2="249" stroke="#222" stroke-width="0.8"/>
<line x1="69" y1="234.28" x2="70.3" y2="234.28" stroke="#222" stroke-width="0.8"/>
<text class="t" x="114.8" y="305.5" font-size="7.5" text-anchor="middle" fill="#1a1a1a" >Pore size (nm)</text>
<text transform="translate(55.5,285.3) rotate(-90)" class="t" font-size="7.3" fill="#1a1a1a">dV/dlogD (cm<tspan font-size="5.47" dy="-3">3</tspan><tspan dy="3">/g)</tspan></text>
<polyline points="76.96,285.8 78.7,284.33 80.29,280.28 82.35,264.64 85.2,229.68 87.89,275.68 90.27,284.33 94.08,284.88 100.41,284.88 109.13,285.06 120.86,284.7 147.01,284.88 165.4,284.88" fill="none" stroke="#ff00ff" stroke-width="0.8" stroke-linejoin="round"/>
<path d="M76.96,283.96 L78.71,287.11 L75.21,287.11 Z" fill="#ff00ff"/>
<path d="M78.7,282.49 L80.45,285.64 L76.95,285.64 Z" fill="#ff00ff"/>
<path d="M80.29,278.44 L82.04,281.59 L78.54,281.59 Z" fill="#ff00ff"/>
<path d="M82.35,262.8 L84.1,265.95 L80.6,265.95 Z" fill="#ff00ff"/>
<path d="M85.2,227.84 L86.95,230.99 L83.45,230.99 Z" fill="#ff00ff"/>
<path d="M87.89,273.84 L89.64,276.99 L86.14,276.99 Z" fill="#ff00ff"/>
<path d="M90.27,282.49 L92.02,285.64 L88.52,285.64 Z" fill="#ff00ff"/>
<path d="M94.08,283.04 L95.83,286.19 L92.33,286.19 Z" fill="#ff00ff"/>
<path d="M100.41,283.04 L102.16,286.19 L98.66,286.19 Z" fill="#ff00ff"/>
<path d="M109.13,283.23 L110.88,286.38 L107.38,286.38 Z" fill="#ff00ff"/>
<path d="M120.86,282.86 L122.61,286.01 L119.11,286.01 Z" fill="#ff00ff"/>
<path d="M147.01,283.04 L148.76,286.19 L145.26,286.19 Z" fill="#ff00ff"/>
<polyline points="76.96,285.8 78.22,283.96 80.13,279.73 82.35,265.56 85.2,238.88 88.53,283.96 90.75,284.7 96.61,284.88 104.69,284.88 120.86,284.7 138.77,284.51 165.4,284.51" fill="none" stroke="#2e9c94" stroke-width="0.8" stroke-linejoin="round"/>
<path d="M76.96,283.98 L78.69,285.8 L76.96,287.62 L75.23,285.8 Z" fill="#fff" stroke="#2e9c94" stroke-width="0.66"/>
<path d="M78.22,282.14 L79.95,283.96 L78.22,285.78 L76.5,283.96 Z" fill="#fff" stroke="#2e9c94" stroke-width="0.66"/>
<path d="M80.13,277.91 L81.86,279.73 L80.13,281.55 L78.4,279.73 Z" fill="#fff" stroke="#2e9c94" stroke-width="0.66"/>
<path d="M82.35,263.74 L84.08,265.56 L82.35,267.38 L80.62,265.56 Z" fill="#fff" stroke="#2e9c94" stroke-width="0.66"/>
<path d="M85.2,237.06 L86.93,238.88 L85.2,240.7 L83.47,238.88 Z" fill="#fff" stroke="#2e9c94" stroke-width="0.66"/>
<path d="M88.53,282.14 L90.26,283.96 L88.53,285.78 L86.8,283.96 Z" fill="#fff" stroke="#2e9c94" stroke-width="0.66"/>
<path d="M90.75,282.88 L92.48,284.7 L90.75,286.52 L89.02,284.7 Z" fill="#fff" stroke="#2e9c94" stroke-width="0.66"/>
<path d="M96.61,283.06 L98.34,284.88 L96.61,286.7 L94.88,284.88 Z" fill="#fff" stroke="#2e9c94" stroke-width="0.66"/>
<path d="M104.69,283.06 L106.42,284.88 L104.69,286.7 L102.97,284.88 Z" fill="#fff" stroke="#2e9c94" stroke-width="0.66"/>
<path d="M120.86,282.88 L122.59,284.7 L120.86,286.52 L119.13,284.7 Z" fill="#fff" stroke="#2e9c94" stroke-width="0.66"/>
<path d="M138.77,282.69 L140.5,284.51 L138.77,286.33 L137.04,284.51 Z" fill="#fff" stroke="#2e9c94" stroke-width="0.66"/>
<line x1="91.5" y1="240.1" x2="98.1" y2="240.1" stroke="#ff00ff" stroke-width="0.9"/>
<path d="M94.8,238.13 L96.67,241.51 L92.92,241.51 Z" fill="#ff00ff"/>
<text class="t" x="99.7" y="241.7" font-size="7.5" text-anchor="start" fill="#1a1a1a" >NiO/5LSBA-160</text>
<line x1="91.5" y1="249.6" x2="98.1" y2="249.6" stroke="#2e9c94" stroke-width="0.9"/>
<path d="M94.8,247.65 L96.65,249.6 L94.8,251.55 L92.95,249.6 Z" fill="#fff" stroke="#2e9c94" stroke-width="0.71"/>
<text class="t" x="99.7" y="251.2" font-size="7.5" fill="#1a1a1a">NiOPtO<tspan font-size="5.6" dy="1.6">x</tspan><tspan dy="-1.6">/5LSBA-160</tspan></text>
<text class="t" x="4.7" y="215.5" font-size="13.8" text-anchor="start" fill="#1a1a1a" >(c)</text>
<text class="t" x="272.5" y="219.3" font-size="13.8" text-anchor="start" fill="#1a1a1a" >(d)</text>
<defs><clipPath id="semclip"><rect x="313.3" y="210.8" width="226.4" height="154.8"/></clipPath><filter id="noise" x="0" y="0" width="100%" height="100%" color-interpolation-filters="sRGB"><feTurbulence type="fractalNoise" baseFrequency="0.085" numOctaves="4" seed="11"/><feColorMatrix type="matrix" values="0.85 0 0 0 0.03  0.85 0 0 0 0.03  0.85 0 0 0 0.03  0 0 0 0 1"/></filter><filter id="grain" x="0" y="0" width="100%" height="100%" color-interpolation-filters="sRGB"><feTurbulence type="fractalNoise" baseFrequency="0.3" numOctaves="2" seed="5"/><feColorMatrix type="matrix" values="1.6 0 0 0 -0.3  1.6 0 0 0 -0.3  1.6 0 0 0 -0.3  0 0 0 0 1"/></filter><filter id="blur1"><feGaussianBlur stdDeviation="0.7"/></filter><filter id="blur2"><feGaussianBlur stdDeviation="1.5"/></filter><filter id="blur3" x="-50%" y="-50%" width="200%" height="200%"><feGaussianBlur stdDeviation="5"/></filter><linearGradient id="bigp" x1="0.1" y1="0.9" x2="0.8" y2="0.1"><stop offset="0" stop-color="#d6d6d6"/><stop offset="0.4" stop-color="#c8c8c8"/><stop offset="0.75" stop-color="#b6b6b6"/><stop offset="1" stop-color="#aeaeae"/></linearGradient></defs>
<g clip-path="url(#semclip)">
<rect x="313.3" y="210.8" width="226.4" height="154.8" fill="#686868"/>
<rect x="313.3" y="210.8" width="226.4" height="154.8" filter="url(#noise)" opacity="1"/>
<g filter="url(#blur3)">
<ellipse cx="340" cy="226" rx="34" ry="18" fill="#8c8c8c" opacity="0.75"/>
<ellipse cx="395" cy="222" rx="22" ry="12" fill="#7c7c7c" opacity="0.5"/>
<ellipse cx="505" cy="300" rx="38" ry="50" fill="#4a4a4a" opacity="0.45"/>
<ellipse cx="455" cy="352" rx="45" ry="14" fill="#525252" opacity="0.45"/>
<ellipse cx="372" cy="325" rx="20" ry="16" fill="#7a7a7a" opacity="0.45"/>
<ellipse cx="318" cy="290" rx="8" ry="40" fill="#5a5a5a" opacity="0.4"/>
</g>
<path d="M312,236 L320,233 L334,236 L345,243 L351,250 L347,262 L339,270 L332,270 L322,262 L312,258 Z" fill="#8e8e8e" stroke="#e2e2e2" stroke-width="1.0" stroke-linejoin="round" />
<path d="M313,212.2 L318,211.2 L331,220.5 L344,232 L350.5,240.5 L349.5,246 L344,243.5 L330,232.5 L317,222 L312.5,218.5 Z" fill="#b8b8b8" stroke="#f6f6f6" stroke-width="1.2" stroke-linejoin="round" />
<path d="M372.6,232 L378.9,237.3 L382,249.8 L387.3,258.2 L395.6,264.5 L401.9,270.7 L397.7,277 L393.5,283.3 L395,290 L393,300 L380,303 L365,305 L350.7,306 L347.5,302.6 L353.8,283.3 L346.5,274.9 L345.5,268.6 L357,260.3 L355.9,249.8 L360,241.5 L366,234 Z" fill="#acacac" stroke="#ececec" stroke-width="1.3" stroke-linejoin="round" />
<path d="M372.6,232 L378.9,237.3 L382,249.8 L387.3,258.2 L395.6,264.5 L401.9,270.7 L397.7,277 L393.5,283.3 L395,290 L393,300 L380,303 L365,305 L350.7,306 L347.5,302.6 L353.8,283.3 L346.5,274.9 L345.5,268.6 L357,260.3 L355.9,249.8 L360,241.5 L366,234 Z" fill="none" stroke="#ffffff" stroke-width="3" opacity="0.4" filter="url(#blur1)"/>
<path d="M352,300 L368,293 L383,292 L392,296 L388,303 L365,305 Z" fill="#d8d8d8" filter="url(#blur1)"/>
<path d="M323.5,301.6 L330.8,300.5 L339.2,302.6 L347.5,302.6 L350.7,308.9 L346.5,317.3 L348.6,325.6 L345.5,330.9 L332.9,333 L326.6,329.8 L323.5,319.4 L324.5,308.9 Z" fill="#dedede" stroke="#ffffff" stroke-width="1.6" stroke-linejoin="round" />
<path d="M330.8,340.3 L339.2,339.2 L347.5,346.5 L354.9,354.9 L351.7,362.2 L339.2,365.4 L328.7,363.3 L324.5,350.7 L325.6,343.4 Z" fill="#acacac" stroke="#eeeeee" stroke-width="1.1" stroke-linejoin="round" />
<path d="M386.2,296.5 L393,295.3 L397.7,299 L396.5,304.2 L389,304.7 L386.5,301 Z" fill="#b0b0b0" stroke="#f4f4f4" stroke-width="1.0" stroke-linejoin="round" />
<path d="M486.2,231 L493.6,223 L499.8,228.6 L503,237.3 L508.5,235.4 L514.1,236.7 L511,242.3 L506,246.6 L503.6,244.7 L501,251 L488.7,252.2 L485,247.2 Z" fill="#9c9c9c" stroke="#ececec" stroke-width="1.1" stroke-linejoin="round" />
<path d="M445.5,224.2 L455.7,218.9 L467.6,215 L475.6,218 L483.5,223.9 L486.5,229.9 L484.5,237.8 L481.5,247.8 L477,253 L473.6,258 L467.7,267.9 L462,275 L459.8,283.1 L455.5,287.4 L453,291.2 L449.9,295.5 L447.1,298.6 L445.8,302.3 L443.8,307.6 L439.9,315.6 L433.9,323.5 L428,329.5 L422.8,335 L412.4,339.2 L401.9,341.3 L391.4,342.4 L381,339.2 L378.9,338.2 L383.1,329.8 L391.4,311 L399.8,300.5 L408.2,294.3 L411,285.5 L412.8,277.6 L416.2,267.6 L420.2,255.7 L428.5,243 L438.5,231.2 Z" fill="url(#bigp)" stroke="#f8f8f8" stroke-width="1.5" stroke-linejoin="round" />
<path d="M445.5,224.2 L455.7,218.9 L467.6,215 L475.6,218 L483.5,223.9 L486.5,229.9 L484.5,237.8 L481.5,247.8 L477,253 L473.6,258 L467.7,267.9 L462,275 L459.8,283.1 L455.5,287.4 L453,291.2 L449.9,295.5 L447.1,298.6 L445.8,302.3 L443.8,307.6 L439.9,315.6 L433.9,323.5 L428,329.5 L422.8,335 L412.4,339.2 L401.9,341.3 L391.4,342.4 L381,339.2 L378.9,338.2 L383.1,329.8 L391.4,311 L399.8,300.5 L408.2,294.3 L411,285.5 L412.8,277.6 L416.2,267.6 L420.2,255.7 L428.5,243 L438.5,231.2 Z" fill="none" stroke="#ffffff" stroke-width="3" opacity="0.45" filter="url(#blur1)"/>
<path d="M436,240 C444,258 440,280 428,300 C420,313 410,322 398,330" fill="none" stroke="#9c9c9c" stroke-width="5" opacity="0.5" filter="url(#blur2)"/>
<path d="M462,222 C472,232 470,250 458,268" fill="none" stroke="#e4e4e4" stroke-width="4" opacity="0.7" filter="url(#blur2)"/>
<path d="M395,335 C405,330 420,318 430,305" fill="none" stroke="#dcdcdc" stroke-width="4" opacity="0.6" filter="url(#blur2)"/>
<path d="M460,250 L463,262 L458,275" fill="none" stroke="#ededed" stroke-width="0.8" stroke-linejoin="round" stroke-linecap="round" opacity="0.8"/>
<path d="M422.8,314.6 L429,316 L431.2,323 L426,325 L422,320 Z" fill="#c0c0c0" stroke="#ffffff" stroke-width="0.9" stroke-linejoin="round" />
<rect x="313.3" y="210.8" width="226.4" height="154.8" filter="url(#grain)" opacity="0.22" style="mix-blend-mode:overlay"/>
<text x="499" y="353.3" font-family="Liberation Serif" font-size="11.8" font-weight="bold" fill="#ffffff">5 μm</text>
<rect x="498.1" y="357.1" width="30.9" height="2.9" fill="#ffffff"/>
</g>
<text class="t" x="340.6" y="386.4" font-size="11.7" text-anchor="start" fill="#1a1a1a" >SEM image of NiO/5LSBA-160</text>
</svg></body></html>
